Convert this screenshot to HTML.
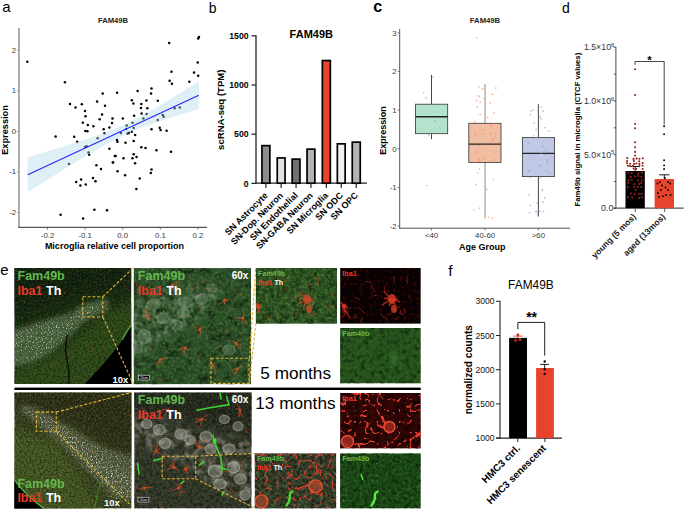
<!DOCTYPE html><html><head><meta charset="utf-8"><title>FAM49B figure</title><style>html,body{margin:0;padding:0;background:#fff;width:685px;height:512px;overflow:hidden;}svg{display:block;font-family:"Liberation Sans",sans-serif;}</style></head><body><svg width="685" height="512" viewBox="0 0 685 512" font-family="&quot;Liberation Sans&quot;, sans-serif"><defs><filter id="bl05" x="-20%" y="-20%" width="140%" height="140%"><feGaussianBlur stdDeviation="0.45"/></filter><filter id="bl1" x="-20%" y="-20%" width="140%" height="140%"><feGaussianBlur stdDeviation="0.8"/></filter><filter id="bl2" x="-30%" y="-30%" width="160%" height="160%"><feGaussianBlur stdDeviation="2.5"/></filter><filter id="bl4" x="-30%" y="-30%" width="160%" height="160%"><feGaussianBlur stdDeviation="5"/></filter><filter id="bl8" x="-30%" y="-30%" width="160%" height="160%"><feGaussianBlur stdDeviation="9"/></filter><clipPath id="cp1"><rect x="14.4" y="268" width="116.9" height="116.1"/></clipPath><filter id="nz1" x="0" y="0" width="1" height="1" color-interpolation-filters="sRGB"><feTurbulence type="fractalNoise" baseFrequency="0.5" numOctaves="2" seed="3"/><feGaussianBlur stdDeviation="0.35"/><feColorMatrix type="matrix" values="0 0 0 0 0.039 0 0 0 0 0.078 0 0 0 0 0.024 1.6 0 0 0 -0.55"/></filter><filter id="nz2" x="0" y="0" width="1" height="1" color-interpolation-filters="sRGB"><feTurbulence type="fractalNoise" baseFrequency="0.5" numOctaves="2" seed="4"/><feGaussianBlur stdDeviation="0.35"/><feColorMatrix type="matrix" values="0 0 0 0 0.235 0 0 0 0 0.353 0 0 0 0 0.157 0 1.4 0 0 -0.6"/></filter><mask id="mk1" maskUnits="userSpaceOnUse" x="0" y="0" width="685" height="512"><polygon points="11.4,331.0 43.0,321.0 72.0,313.0 82.0,305.0 100.0,300.0 108.0,299.0 108.0,311.0 100.0,313.0 82.0,323.0 72.0,334.0 53.0,351.0 33.0,362.0 11.4,366.0" fill="#fff" filter="url(#bl2)"/></mask><filter id="nz3" x="0" y="0" width="1" height="1" color-interpolation-filters="sRGB"><feTurbulence type="fractalNoise" baseFrequency="0.8" numOctaves="1" seed="7"/><feGaussianBlur stdDeviation="0.35"/><feColorMatrix type="matrix" values="0 0 0 0 0.784 0 0 0 0 0.882 0 0 0 0 0.745 4.0 0 0 0 -2.2"/></filter><filter id="nz4" x="0" y="0" width="1" height="1" color-interpolation-filters="sRGB"><feTurbulence type="fractalNoise" baseFrequency="0.7" numOctaves="1" seed="9"/><feGaussianBlur stdDeviation="0.35"/><feColorMatrix type="matrix" values="0 0 0 0 0.667 0 0 0 0 0.235 0 0 0 0 0.118 6 0 0 0 -4.0"/></filter><clipPath id="cp2"><rect x="133.7" y="268.1" width="117.4" height="116.1"/></clipPath><filter id="nz5" x="0" y="0" width="1" height="1" color-interpolation-filters="sRGB"><feTurbulence type="fractalNoise" baseFrequency="0.12" numOctaves="2" seed="11"/><feGaussianBlur stdDeviation="0.5"/><feColorMatrix type="matrix" values="0 0 0 0 0.047 0 0 0 0 0.110 0 0 0 0 0.039 2.0 0 0 0 -0.85"/></filter><filter id="nz6" x="0" y="0" width="1" height="1" color-interpolation-filters="sRGB"><feTurbulence type="fractalNoise" baseFrequency="0.35" numOctaves="2" seed="12"/><feGaussianBlur stdDeviation="0.5"/><feColorMatrix type="matrix" values="0 0 0 0 0.314 0 0 0 0 0.471 0 0 0 0 0.255 0 2.0 0 0 -0.9"/></filter><mask id="mk2" maskUnits="userSpaceOnUse" x="0" y="0" width="685" height="512"><polygon points="128.7,305.0 170.0,288.0 205.0,283.0 222.0,292.0 205.0,315.0 170.0,338.0 128.7,362.0" fill="#fff" filter="url(#bl4)"/></mask><filter id="nz7" x="0" y="0" width="1" height="1" color-interpolation-filters="sRGB"><feTurbulence type="fractalNoise" baseFrequency="0.16" numOctaves="2" seed="13"/><feGaussianBlur stdDeviation="0.35"/><feColorMatrix type="matrix" values="0 0 0 0 0.510 0 0 0 0 0.588 0 0 0 0 0.490 2.0 0 0 0 -0.85"/></filter><clipPath id="cp3"><rect x="255.8" y="267.9" width="81.2" height="55.9"/></clipPath><filter id="nz8" x="0" y="0" width="1" height="1" color-interpolation-filters="sRGB"><feTurbulence type="fractalNoise" baseFrequency="0.15" numOctaves="2" seed="14"/><feGaussianBlur stdDeviation="0.5"/><feColorMatrix type="matrix" values="0 0 0 0 0.047 0 0 0 0 0.110 0 0 0 0 0.031 2.0 0 0 0 -0.8"/></filter><filter id="nz9" x="0" y="0" width="1" height="1" color-interpolation-filters="sRGB"><feTurbulence type="fractalNoise" baseFrequency="0.35" numOctaves="2" seed="15"/><feGaussianBlur stdDeviation="0.5"/><feColorMatrix type="matrix" values="0 0 0 0 0.333 0 0 0 0 0.529 0 0 0 0 0.235 0 2.0 0 0 -0.9"/></filter><clipPath id="cp4"><rect x="340.1" y="267.9" width="80.7" height="55.9"/></clipPath><filter id="nz10" x="0" y="0" width="1" height="1" color-interpolation-filters="sRGB"><feTurbulence type="fractalNoise" baseFrequency="0.3" numOctaves="2" seed="16"/><feGaussianBlur stdDeviation="0.35"/><feColorMatrix type="matrix" values="0 0 0 0 0.353 0 0 0 0 0.047 0 0 0 0 0.031 2.0 0 0 0 -1.05"/></filter><clipPath id="cp5"><rect x="340.1" y="328" width="80.7" height="55.4"/></clipPath><filter id="nz11" x="0" y="0" width="1" height="1" color-interpolation-filters="sRGB"><feTurbulence type="fractalNoise" baseFrequency="0.2" numOctaves="2" seed="17"/><feGaussianBlur stdDeviation="0.35"/><feColorMatrix type="matrix" values="0 0 0 0 0.031 0 0 0 0 0.086 0 0 0 0 0.024 1.8 0 0 0 -0.8"/></filter><filter id="nz12" x="0" y="0" width="1" height="1" color-interpolation-filters="sRGB"><feTurbulence type="fractalNoise" baseFrequency="0.35" numOctaves="2" seed="18"/><feGaussianBlur stdDeviation="0.6"/><feColorMatrix type="matrix" values="0 0 0 0 0.216 0 0 0 0 0.431 0 0 0 0 0.165 0 1.8 0 0 -0.85"/></filter><clipPath id="cp6"><rect x="14.4" y="392.4" width="117.1" height="116.0"/></clipPath><filter id="nz13" x="0" y="0" width="1" height="1" color-interpolation-filters="sRGB"><feTurbulence type="fractalNoise" baseFrequency="0.5" numOctaves="2" seed="19"/><feGaussianBlur stdDeviation="0.35"/><feColorMatrix type="matrix" values="0 0 0 0 0.078 0 0 0 0 0.086 0 0 0 0 0.039 1.6 0 0 0 -0.55"/></filter><filter id="nz14" x="0" y="0" width="1" height="1" color-interpolation-filters="sRGB"><feTurbulence type="fractalNoise" baseFrequency="0.6" numOctaves="2" seed="20"/><feGaussianBlur stdDeviation="0.35"/><feColorMatrix type="matrix" values="0 0 0 0 0.412 0 0 0 0 0.502 0 0 0 0 0.216 0 1.4 0 0 -0.62"/></filter><mask id="mk3" maskUnits="userSpaceOnUse" x="0" y="0" width="685" height="512"><polygon points="22.0,404.0 40.0,410.0 70.0,428.0 100.0,446.0 136.5,458.0 136.5,500.0 115.0,497.0 88.0,470.0 60.0,443.0 30.0,418.0 20.0,410.0" fill="#fff" filter="url(#bl2)"/></mask><filter id="nz15" x="0" y="0" width="1" height="1" color-interpolation-filters="sRGB"><feTurbulence type="fractalNoise" baseFrequency="0.8" numOctaves="1" seed="21"/><feGaussianBlur stdDeviation="0.35"/><feColorMatrix type="matrix" values="0 0 0 0 0.902 0 0 0 0 0.922 0 0 0 0 0.863 4.0 0 0 0 -2.25"/></filter><mask id="mk4" maskUnits="userSpaceOnUse" x="0" y="0" width="685" height="512"><polygon points="25.0,406.0 45.0,414.0 60.0,424.0 85.0,445.0 110.0,465.0 136.5,478.0 136.5,505.0 112.0,500.0 90.0,474.0 62.0,441.0 35.0,418.0" fill="#fff" filter="url(#bl2)"/></mask><filter id="nz16" x="0" y="0" width="1" height="1" color-interpolation-filters="sRGB"><feTurbulence type="fractalNoise" baseFrequency="0.8" numOctaves="1" seed="41"/><feGaussianBlur stdDeviation="0.35"/><feColorMatrix type="matrix" values="0 0 0 0 0.922 0 0 0 0 0.933 0 0 0 0 0.894 4.0 0 0 0 -2.3"/></filter><filter id="nz17" x="0" y="0" width="1" height="1" color-interpolation-filters="sRGB"><feTurbulence type="fractalNoise" baseFrequency="0.7" numOctaves="1" seed="22"/><feGaussianBlur stdDeviation="0.35"/><feColorMatrix type="matrix" values="0 0 0 0 0.667 0 0 0 0 0.235 0 0 0 0 0.118 6 0 0 0 -4.3"/></filter><clipPath id="cp7"><rect x="134.2" y="392.4" width="117.4" height="116.0"/></clipPath><filter id="nz18" x="0" y="0" width="1" height="1" color-interpolation-filters="sRGB"><feTurbulence type="fractalNoise" baseFrequency="0.3" numOctaves="2" seed="23"/><feGaussianBlur stdDeviation="0.5"/><feColorMatrix type="matrix" values="0 0 0 0 0.059 0 0 0 0 0.071 0 0 0 0 0.039 1.8 0 0 0 -0.75"/></filter><filter id="nz19" x="0" y="0" width="1" height="1" color-interpolation-filters="sRGB"><feTurbulence type="fractalNoise" baseFrequency="0.5" numOctaves="2" seed="24"/><feGaussianBlur stdDeviation="0.5"/><feColorMatrix type="matrix" values="0 0 0 0 0.373 0 0 0 0 0.392 0 0 0 0 0.314 0 1.6 0 0 -0.8"/></filter><mask id="mk5" maskUnits="userSpaceOnUse" x="0" y="0" width="685" height="512"><polygon points="129.2,414.0 170.0,422.0 210.0,432.0 256.6,445.0 256.6,498.0 220.0,492.0 190.0,468.0 160.0,452.0 129.2,442.0" fill="#fff" filter="url(#bl4)"/></mask><filter id="nz20" x="0" y="0" width="1" height="1" color-interpolation-filters="sRGB"><feTurbulence type="fractalNoise" baseFrequency="0.13" numOctaves="2" seed="25"/><feGaussianBlur stdDeviation="0.6"/><feColorMatrix type="matrix" values="0 0 0 0 0.667 0 0 0 0 0.675 0 0 0 0 0.627 1.6 0 0 0 -0.65"/></filter><clipPath id="cp8"><rect x="340.1" y="392.9" width="80.7" height="55.7"/></clipPath><filter id="nz21" x="0" y="0" width="1" height="1" color-interpolation-filters="sRGB"><feTurbulence type="fractalNoise" baseFrequency="0.2" numOctaves="2" seed="26"/><feGaussianBlur stdDeviation="0.35"/><feColorMatrix type="matrix" values="0 0 0 0 0.039 0 0 0 0 0.008 0 0 0 0 0.004 2.0 0 0 0 -0.8"/></filter><filter id="nz22" x="0" y="0" width="1" height="1" color-interpolation-filters="sRGB"><feTurbulence type="turbulence" baseFrequency="0.09" numOctaves="2" seed="27"/><feGaussianBlur stdDeviation="0.3"/><feColorMatrix type="matrix" values="0 0 0 0 0.910 0 0 0 0 0.235 0 0 0 0 0.173 -16.0 0 0 0 1.85"/></filter><clipPath id="cp9"><rect x="254.7" y="453.3" width="81.5" height="55.2"/></clipPath><filter id="nz23" x="0" y="0" width="1" height="1" color-interpolation-filters="sRGB"><feTurbulence type="fractalNoise" baseFrequency="0.35" numOctaves="2" seed="28"/><feGaussianBlur stdDeviation="0.35"/><feColorMatrix type="matrix" values="0 0 0 0 0.059 0 0 0 0 0.078 0 0 0 0 0.039 2.0 0 0 0 -0.8"/></filter><filter id="nz24" x="0" y="0" width="1" height="1" color-interpolation-filters="sRGB"><feTurbulence type="fractalNoise" baseFrequency="0.25" numOctaves="2" seed="29"/><feGaussianBlur stdDeviation="0.6"/><feColorMatrix type="matrix" values="0 0 0 0 0.431 0 0 0 0 0.478 0 0 0 0 0.353 0 1.5 0 0 -0.7"/></filter><filter id="nz25" x="0" y="0" width="1" height="1" color-interpolation-filters="sRGB"><feTurbulence type="turbulence" baseFrequency="0.09" numOctaves="2" seed="30"/><feGaussianBlur stdDeviation="0.3"/><feColorMatrix type="matrix" values="0 0 0 0 0.843 0 0 0 0 0.235 0 0 0 0 0.157 -16.0 0 0 0 1.75"/></filter><clipPath id="cp10"><rect x="340.1" y="453.3" width="80.7" height="55.2"/></clipPath><filter id="nz26" x="0" y="0" width="1" height="1" color-interpolation-filters="sRGB"><feTurbulence type="fractalNoise" baseFrequency="0.25" numOctaves="2" seed="31"/><feGaussianBlur stdDeviation="0.35"/><feColorMatrix type="matrix" values="0 0 0 0 0.031 0 0 0 0 0.098 0 0 0 0 0.024 2.0 0 0 0 -0.8"/></filter><filter id="nz27" x="0" y="0" width="1" height="1" color-interpolation-filters="sRGB"><feTurbulence type="fractalNoise" baseFrequency="0.35" numOctaves="2" seed="32"/><feGaussianBlur stdDeviation="0.6"/><feColorMatrix type="matrix" values="0 0 0 0 0.235 0 0 0 0 0.510 0 0 0 0 0.196 0 1.6 0 0 -0.8"/></filter><filter id="nz28" x="0" y="0" width="1" height="1" color-interpolation-filters="sRGB"><feTurbulence type="fractalNoise" baseFrequency="0.6" numOctaves="1" seed="33"/><feGaussianBlur stdDeviation="0.3"/><feColorMatrix type="matrix" values="0 0 0 0 0.353 0 0 0 0 0.784 0 0 0 0 0.275 6 0 0 0 -4.2"/></filter></defs><text x="2.2" y="12.1" font-size="15" text-anchor="start" font-weight="normal" fill="#000">a</text>
<text x="208.8" y="13.3" font-size="14" text-anchor="start" font-weight="normal" fill="#000">b</text>
<text x="373.3" y="12.4" font-size="16.2" text-anchor="start" font-weight="bold" fill="#000">c</text>
<text x="562" y="13.2" font-size="14" text-anchor="start" font-weight="normal" fill="#000">d</text>
<text x="0.3" y="274.8" font-size="15" text-anchor="start" font-weight="normal" fill="#000">e</text>
<text x="448.3" y="275.8" font-size="15.5" text-anchor="start" font-weight="normal" fill="#000">f</text>
<text x="113" y="22.8" font-size="7.6" text-anchor="middle" font-weight="bold" fill="#222">FAM49B</text>
<circle cx="27.3" cy="61.8" r="1.25" fill="#000"/>
<circle cx="64.9" cy="82.2" r="1.25" fill="#000"/>
<circle cx="70" cy="104" r="1.25" fill="#000"/>
<circle cx="75.5" cy="107.4" r="1.25" fill="#000"/>
<circle cx="81.8" cy="104.2" r="1.25" fill="#000"/>
<circle cx="97.1" cy="101.6" r="1.25" fill="#000"/>
<circle cx="102.7" cy="93.5" r="1.25" fill="#000"/>
<circle cx="105" cy="105.8" r="1.25" fill="#000"/>
<circle cx="117.1" cy="92.8" r="1.25" fill="#000"/>
<circle cx="137.6" cy="91" r="1.25" fill="#000"/>
<circle cx="131.8" cy="100.3" r="1.25" fill="#000"/>
<circle cx="133.4" cy="103.4" r="1.25" fill="#000"/>
<circle cx="141.3" cy="104" r="1.25" fill="#000"/>
<circle cx="141" cy="108" r="1.25" fill="#000"/>
<circle cx="146.4" cy="100.5" r="1.25" fill="#000"/>
<circle cx="147.3" cy="108.2" r="1.25" fill="#000"/>
<circle cx="151.5" cy="88.5" r="1.25" fill="#000"/>
<circle cx="151" cy="93.5" r="1.25" fill="#000"/>
<circle cx="157.8" cy="100.7" r="1.25" fill="#000"/>
<circle cx="169.2" cy="43" r="1.25" fill="#000"/>
<circle cx="171.5" cy="71.7" r="1.25" fill="#000"/>
<circle cx="169.6" cy="80.8" r="1.25" fill="#000"/>
<circle cx="171.9" cy="83.8" r="1.25" fill="#000"/>
<circle cx="189.4" cy="81.7" r="1.25" fill="#000"/>
<circle cx="194" cy="72.4" r="1.25" fill="#000"/>
<circle cx="198.2" cy="75.7" r="1.25" fill="#000"/>
<circle cx="197.7" cy="62.5" r="1.25" fill="#000"/>
<circle cx="198.2" cy="38.5" r="1.25" fill="#000"/>
<circle cx="199" cy="37" r="1.25" fill="#000"/>
<circle cx="85" cy="111" r="1.25" fill="#000"/>
<circle cx="85.5" cy="116.2" r="1.25" fill="#000"/>
<circle cx="102" cy="114.6" r="1.25" fill="#000"/>
<circle cx="99.7" cy="119.3" r="1.25" fill="#000"/>
<circle cx="112.5" cy="118.5" r="1.25" fill="#000"/>
<circle cx="112" cy="123" r="1.25" fill="#000"/>
<circle cx="82.8" cy="122.8" r="1.25" fill="#000"/>
<circle cx="87.8" cy="125.1" r="1.25" fill="#000"/>
<circle cx="93.4" cy="126.2" r="1.25" fill="#000"/>
<circle cx="103.6" cy="129.2" r="1.25" fill="#000"/>
<circle cx="109.4" cy="127.4" r="1.25" fill="#000"/>
<circle cx="85.3" cy="130.9" r="1.25" fill="#000"/>
<circle cx="87.4" cy="131.3" r="1.25" fill="#000"/>
<circle cx="55.6" cy="136.4" r="1.25" fill="#000"/>
<circle cx="74.2" cy="136.7" r="1.25" fill="#000"/>
<circle cx="77.2" cy="141.7" r="1.25" fill="#000"/>
<circle cx="97.6" cy="138.3" r="1.25" fill="#000"/>
<circle cx="104.5" cy="133.2" r="1.25" fill="#000"/>
<circle cx="85" cy="147.1" r="1.25" fill="#000"/>
<circle cx="86.7" cy="146.2" r="1.25" fill="#000"/>
<circle cx="88.5" cy="152.4" r="1.25" fill="#000"/>
<circle cx="89.2" cy="154.7" r="1.25" fill="#000"/>
<circle cx="69" cy="164.1" r="1.25" fill="#000"/>
<circle cx="109.4" cy="148.7" r="1.25" fill="#000"/>
<circle cx="114.8" cy="155.9" r="1.25" fill="#000"/>
<circle cx="112.9" cy="162.2" r="1.25" fill="#000"/>
<circle cx="96.4" cy="165.2" r="1.25" fill="#000"/>
<circle cx="101" cy="168.9" r="1.25" fill="#000"/>
<circle cx="93" cy="178" r="1.25" fill="#000"/>
<circle cx="95.5" cy="181.2" r="1.25" fill="#000"/>
<circle cx="76.2" cy="182.1" r="1.25" fill="#000"/>
<circle cx="81.1" cy="179.6" r="1.25" fill="#000"/>
<circle cx="80.4" cy="185.6" r="1.25" fill="#000"/>
<circle cx="85.8" cy="184.5" r="1.25" fill="#000"/>
<circle cx="141.6" cy="113.4" r="1.25" fill="#000"/>
<circle cx="146.6" cy="114.1" r="1.25" fill="#000"/>
<circle cx="134.1" cy="115.8" r="1.25" fill="#000"/>
<circle cx="122.8" cy="118.6" r="1.25" fill="#000"/>
<circle cx="143.4" cy="118.5" r="1.25" fill="#000"/>
<circle cx="132.5" cy="122.8" r="1.25" fill="#000"/>
<circle cx="126.7" cy="125.5" r="1.25" fill="#000"/>
<circle cx="162.7" cy="114.9" r="1.25" fill="#000"/>
<circle cx="163.6" cy="116.7" r="1.25" fill="#000"/>
<circle cx="157.8" cy="120" r="1.25" fill="#000"/>
<circle cx="174.7" cy="108.3" r="1.25" fill="#000"/>
<circle cx="179.8" cy="107.6" r="1.25" fill="#000"/>
<circle cx="126.2" cy="129" r="1.25" fill="#000"/>
<circle cx="133.7" cy="128.1" r="1.25" fill="#000"/>
<circle cx="120.9" cy="132.9" r="1.25" fill="#000"/>
<circle cx="127.6" cy="133.4" r="1.25" fill="#000"/>
<circle cx="129" cy="132.7" r="1.25" fill="#000"/>
<circle cx="131.8" cy="131.8" r="1.25" fill="#000"/>
<circle cx="135.1" cy="135.1" r="1.25" fill="#000"/>
<circle cx="151.5" cy="129.3" r="1.25" fill="#000"/>
<circle cx="159.7" cy="127.8" r="1.25" fill="#000"/>
<circle cx="160.6" cy="129.9" r="1.25" fill="#000"/>
<circle cx="166.6" cy="130.8" r="1.25" fill="#000"/>
<circle cx="117" cy="139.9" r="1.25" fill="#000"/>
<circle cx="117.4" cy="141.7" r="1.25" fill="#000"/>
<circle cx="125.5" cy="142.7" r="1.25" fill="#000"/>
<circle cx="133.7" cy="141.1" r="1.25" fill="#000"/>
<circle cx="141.3" cy="147.3" r="1.25" fill="#000"/>
<circle cx="145.5" cy="148" r="1.25" fill="#000"/>
<circle cx="156.4" cy="150.3" r="1.25" fill="#000"/>
<circle cx="171" cy="151.7" r="1.25" fill="#000"/>
<circle cx="115.6" cy="155.9" r="1.25" fill="#000"/>
<circle cx="123.5" cy="158.3" r="1.25" fill="#000"/>
<circle cx="133.7" cy="154.3" r="1.25" fill="#000"/>
<circle cx="132.5" cy="158.2" r="1.25" fill="#000"/>
<circle cx="136.5" cy="157.1" r="1.25" fill="#000"/>
<circle cx="135.1" cy="163.3" r="1.25" fill="#000"/>
<circle cx="113" cy="162.4" r="1.25" fill="#000"/>
<circle cx="117.6" cy="171.2" r="1.25" fill="#000"/>
<circle cx="125.1" cy="175.2" r="1.25" fill="#000"/>
<circle cx="151.5" cy="169.6" r="1.25" fill="#000"/>
<circle cx="150.8" cy="173.1" r="1.25" fill="#000"/>
<circle cx="139.7" cy="178.6" r="1.25" fill="#000"/>
<circle cx="136.4" cy="189.1" r="1.25" fill="#000"/>
<circle cx="60.6" cy="214.8" r="1.25" fill="#000"/>
<circle cx="83.1" cy="218.4" r="1.25" fill="#000"/>
<circle cx="94.4" cy="209.8" r="1.25" fill="#000"/>
<circle cx="107" cy="210.2" r="1.25" fill="#000"/>
<polygon points="27.7,157.3 32.0,156.0 36.3,154.7 40.5,153.4 44.8,152.1 49.1,150.8 53.4,149.5 57.6,148.2 61.9,146.9 66.2,145.5 70.5,144.2 74.8,142.8 79.0,141.5 83.3,140.1 87.6,138.7 91.9,137.3 96.1,135.8 100.4,134.3 104.7,132.7 109.0,131.1 113.3,129.4 117.5,127.6 121.8,125.8 126.1,123.8 130.4,121.7 134.6,119.5 138.9,117.3 143.2,114.9 147.5,112.5 151.7,110.1 156.0,107.6 160.3,105.0 164.6,102.5 168.9,99.9 173.1,97.3 177.4,94.6 181.7,92.0 186.0,89.4 190.2,86.7 194.5,84.1 198.8,81.4 198.8,109.0 194.5,110.3 190.2,111.6 186.0,112.9 181.7,114.3 177.4,115.6 173.1,117.0 168.9,118.3 164.6,119.7 160.3,121.1 156.0,122.6 151.7,124.1 147.5,125.6 143.2,127.1 138.9,128.8 134.6,130.5 130.4,132.3 126.1,134.2 121.8,136.2 117.5,138.3 113.3,140.5 109.0,142.8 104.7,145.1 100.4,147.5 96.1,150.0 91.9,152.5 87.6,155.1 83.3,157.6 79.0,160.2 74.8,162.8 70.5,165.4 66.2,168.1 61.9,170.7 57.6,173.4 53.4,176.0 49.1,178.7 44.8,181.4 40.5,184.0 36.3,186.7 32.0,189.4 27.7,192.1" fill="rgb(173,216,230)" fill-opacity="0.4"/>
<line x1="27.7" y1="174.7" x2="198.8" y2="95.2" stroke="#2b2bff" stroke-width="1.2"/>
<line x1="19" y1="28" x2="19" y2="227.9" stroke="#8a8a8a" stroke-width="1.4"/>
<line x1="18.3" y1="227.4" x2="207" y2="227.4" stroke="#555" stroke-width="1.1"/>
<line x1="17" y1="50.2" x2="19" y2="50.2" stroke="#8a8a8a" stroke-width="0.8"/>
<text x="16.2" y="52.5" font-size="7.8" text-anchor="end" font-weight="normal" fill="#3a3a3a">2</text>
<line x1="17" y1="90.8" x2="19" y2="90.8" stroke="#8a8a8a" stroke-width="0.8"/>
<text x="16.2" y="93.1" font-size="7.8" text-anchor="end" font-weight="normal" fill="#3a3a3a">1</text>
<line x1="17" y1="131.4" x2="19" y2="131.4" stroke="#8a8a8a" stroke-width="0.8"/>
<text x="16.2" y="133.70000000000002" font-size="7.8" text-anchor="end" font-weight="normal" fill="#3a3a3a">0</text>
<line x1="17" y1="172" x2="19" y2="172" stroke="#8a8a8a" stroke-width="0.8"/>
<text x="16.2" y="174.3" font-size="7.8" text-anchor="end" font-weight="normal" fill="#3a3a3a">-1</text>
<line x1="17" y1="212.6" x2="19" y2="212.6" stroke="#8a8a8a" stroke-width="0.8"/>
<text x="16.2" y="214.9" font-size="7.8" text-anchor="end" font-weight="normal" fill="#3a3a3a">-2</text>
<line x1="47.5" y1="227.4" x2="47.5" y2="229.6" stroke="#555" stroke-width="0.8"/>
<text x="47.5" y="238.3" font-size="7.8" text-anchor="middle" font-weight="normal" fill="#3a3a3a">-0.2</text>
<line x1="85.1" y1="227.4" x2="85.1" y2="229.6" stroke="#555" stroke-width="0.8"/>
<text x="85.1" y="238.3" font-size="7.8" text-anchor="middle" font-weight="normal" fill="#3a3a3a">-0.1</text>
<line x1="122.7" y1="227.4" x2="122.7" y2="229.6" stroke="#555" stroke-width="0.8"/>
<text x="122.7" y="238.3" font-size="7.8" text-anchor="middle" font-weight="normal" fill="#3a3a3a">0.0</text>
<line x1="160.3" y1="227.4" x2="160.3" y2="229.6" stroke="#555" stroke-width="0.8"/>
<text x="160.3" y="238.3" font-size="7.8" text-anchor="middle" font-weight="normal" fill="#3a3a3a">0.1</text>
<line x1="197.9" y1="227.4" x2="197.9" y2="229.6" stroke="#555" stroke-width="0.8"/>
<text x="197.9" y="238.3" font-size="7.8" text-anchor="middle" font-weight="normal" fill="#3a3a3a">0.2</text>
<text x="114.4" y="248.6" font-size="9" text-anchor="middle" font-weight="bold" fill="#000">Microglia relative cell proportion</text>
<text x="8.3" y="130" font-size="9.2" text-anchor="middle" font-weight="bold" fill="#000" transform="rotate(-90 8.3 130)">Expression</text>
<text x="311.3" y="37.6" font-size="11" text-anchor="middle" font-weight="bold" fill="#000">FAM49B</text>
<line x1="256" y1="35.3" x2="256" y2="183.9" stroke="#222" stroke-width="1.3"/>
<line x1="255.4" y1="183.2" x2="367" y2="183.2" stroke="#222" stroke-width="1.3"/>
<line x1="251.4" y1="35.8" x2="256" y2="35.8" stroke="#222" stroke-width="1.2"/>
<text x="248.6" y="38.9" font-size="8.7" text-anchor="end" font-weight="bold" fill="#000">1500</text>
<line x1="251.4" y1="85" x2="256" y2="85" stroke="#222" stroke-width="1.2"/>
<text x="248.6" y="88.1" font-size="8.7" text-anchor="end" font-weight="bold" fill="#000">1000</text>
<line x1="251.4" y1="134.2" x2="256" y2="134.2" stroke="#222" stroke-width="1.2"/>
<text x="248.6" y="137.29999999999998" font-size="8.7" text-anchor="end" font-weight="bold" fill="#000">500</text>
<line x1="251.4" y1="183.4" x2="256" y2="183.4" stroke="#222" stroke-width="1.2"/>
<text x="248.6" y="186.5" font-size="8.7" text-anchor="end" font-weight="bold" fill="#000">0</text>
<rect x="261.95" y="145.65" width="7.90" height="37.55" fill="#8d8d8d" stroke="#000" stroke-width="1.7"/>
<line x1="265.9" y1="183.2" x2="265.9" y2="188" stroke="#222" stroke-width="1.2"/>
<text x="268.29999999999995" y="196.0" font-size="9.0" text-anchor="end" font-weight="bold" fill="#000" transform="rotate(-45 268.29999999999995 196.0)">SN Astrocyte</text>
<rect x="277.25" y="157.95" width="7.80" height="25.25" fill="#e3e3e3" stroke="#000" stroke-width="1.7"/>
<line x1="281.15" y1="183.2" x2="281.15" y2="188" stroke="#222" stroke-width="1.2"/>
<text x="283.54999999999995" y="196.0" font-size="9.0" text-anchor="end" font-weight="bold" fill="#000" transform="rotate(-45 283.54999999999995 196.0)">SN-Dop. Neuron</text>
<rect x="292.15" y="159.15" width="7.80" height="24.05" fill="#6f6f6f" stroke="#000" stroke-width="1.7"/>
<line x1="296.05" y1="183.2" x2="296.05" y2="188" stroke="#222" stroke-width="1.2"/>
<text x="298.45" y="196.0" font-size="9.0" text-anchor="end" font-weight="bold" fill="#000" transform="rotate(-45 298.45 196.0)">SN Endothelial</text>
<rect x="307.05" y="149.15" width="7.80" height="34.05" fill="#b3b3b3" stroke="#000" stroke-width="1.7"/>
<line x1="310.95" y1="183.2" x2="310.95" y2="188" stroke="#222" stroke-width="1.2"/>
<text x="313.34999999999997" y="196.0" font-size="9.0" text-anchor="end" font-weight="bold" fill="#000" transform="rotate(-45 313.34999999999997 196.0)">SN-GABA Neuron</text>
<rect x="322.35" y="60.55" width="8.00" height="122.65" fill="#e8432c" stroke="#000" stroke-width="1.7"/>
<line x1="326.35" y1="183.2" x2="326.35" y2="188" stroke="#222" stroke-width="1.2"/>
<text x="328.75" y="196.0" font-size="9.0" text-anchor="end" font-weight="bold" fill="#000" transform="rotate(-45 328.75 196.0)">SN Microglia</text>
<rect x="337.35" y="143.85" width="7.80" height="39.35" fill="#f0f0f0" stroke="#000" stroke-width="1.7"/>
<line x1="341.25" y1="183.2" x2="341.25" y2="188" stroke="#222" stroke-width="1.2"/>
<text x="343.65" y="196.0" font-size="9.0" text-anchor="end" font-weight="bold" fill="#000" transform="rotate(-45 343.65 196.0)">SN ODC</text>
<rect x="352.25" y="142.15" width="8.00" height="41.05" fill="#b3b3b3" stroke="#000" stroke-width="1.7"/>
<line x1="356.25" y1="183.2" x2="356.25" y2="188" stroke="#222" stroke-width="1.2"/>
<text x="358.65" y="196.0" font-size="9.0" text-anchor="end" font-weight="bold" fill="#000" transform="rotate(-45 358.65 196.0)">SN OPC</text>
<text x="224.4" y="109.7" font-size="9.6" text-anchor="middle" font-weight="bold" fill="#000" transform="rotate(-90 224.4 109.7)">scRNA-seq (TPM)</text>
<text x="485" y="23.2" font-size="7.7" text-anchor="middle" font-weight="bold" fill="#222">FAM49B</text>
<line x1="399.7" y1="28.9" x2="399.7" y2="228.6" stroke="#555" stroke-width="1.0"/>
<line x1="399.2" y1="228.2" x2="570.3" y2="228.2" stroke="#555" stroke-width="1.0"/>
<line x1="397.6" y1="32.8" x2="399.7" y2="32.8" stroke="#555" stroke-width="0.8"/>
<text x="396.6" y="35.599999999999994" font-size="7.8" text-anchor="end" font-weight="normal" fill="#3a3a3a">3</text>
<line x1="397.6" y1="71.4" x2="399.7" y2="71.4" stroke="#555" stroke-width="0.8"/>
<text x="396.6" y="74.2" font-size="7.8" text-anchor="end" font-weight="normal" fill="#3a3a3a">2</text>
<line x1="397.6" y1="110.1" x2="399.7" y2="110.1" stroke="#555" stroke-width="0.8"/>
<text x="396.6" y="112.89999999999999" font-size="7.8" text-anchor="end" font-weight="normal" fill="#3a3a3a">1</text>
<line x1="397.6" y1="148.7" x2="399.7" y2="148.7" stroke="#555" stroke-width="0.8"/>
<text x="396.6" y="151.5" font-size="7.8" text-anchor="end" font-weight="normal" fill="#3a3a3a">0</text>
<line x1="397.6" y1="187.4" x2="399.7" y2="187.4" stroke="#555" stroke-width="0.8"/>
<text x="396.6" y="190.20000000000002" font-size="7.8" text-anchor="end" font-weight="normal" fill="#3a3a3a">-1</text>
<line x1="397.6" y1="226" x2="399.7" y2="226" stroke="#555" stroke-width="0.8"/>
<text x="396.6" y="228.8" font-size="7.8" text-anchor="end" font-weight="normal" fill="#3a3a3a">-2</text>
<line x1="431.5" y1="74.9" x2="431.5" y2="104.2" stroke="#333" stroke-width="0.9"/>
<line x1="431.5" y1="133.7" x2="431.5" y2="139.2" stroke="#333" stroke-width="0.9"/>
<rect x="415.50" y="104.20" width="32.20" height="29.50" fill="#b3e2cd" stroke="#333" stroke-width="0.8"/>
<line x1="415.5" y1="116.8" x2="447.7" y2="116.8" stroke="#222" stroke-width="1.4"/>
<circle cx="423.7" cy="92.7" r="0.9" fill="rgb(102, 194, 165)" fill-opacity="0.6"/>
<circle cx="427.0" cy="185.6" r="0.9" fill="rgb(102, 194, 165)" fill-opacity="0.6"/>
<circle cx="433.0" cy="77.0" r="0.9" fill="rgb(102, 194, 165)" fill-opacity="0.6"/>
<circle cx="426.0" cy="98.0" r="0.9" fill="rgb(102, 194, 165)" fill-opacity="0.6"/>
<circle cx="435.0" cy="121.0" r="0.9" fill="rgb(102, 194, 165)" fill-opacity="0.6"/>
<circle cx="440.0" cy="128.0" r="0.9" fill="rgb(102, 194, 165)" fill-opacity="0.6"/>
<circle cx="429.0" cy="135.0" r="0.9" fill="rgb(102, 194, 165)" fill-opacity="0.6"/>
<circle cx="438.0" cy="112.0" r="0.9" fill="rgb(102, 194, 165)" fill-opacity="0.6"/>
<line x1="431.5" y1="228.2" x2="431.5" y2="230.4" stroke="#555" stroke-width="0.8"/>
<text x="431.5" y="238.4" font-size="7.8" text-anchor="middle" font-weight="normal" fill="#3a3a3a">&lt;40</text>
<line x1="485.1" y1="84.1" x2="485.1" y2="123.3" stroke="#b4b4b4" stroke-width="1.5"/>
<line x1="485.1" y1="162.4" x2="485.1" y2="218.4" stroke="#b4b4b4" stroke-width="1.5"/>
<rect x="468.80" y="123.30" width="32.20" height="39.10" fill="#f0bea2" stroke="#333" stroke-width="0.8"/>
<line x1="468.8" y1="144.1" x2="501" y2="144.1" stroke="#222" stroke-width="1.4"/>
<circle cx="474.8" cy="132.8" r="0.9" fill="rgb(252, 141, 98)" fill-opacity="0.6"/>
<circle cx="492.6" cy="140.5" r="0.9" fill="rgb(252, 141, 98)" fill-opacity="0.6"/>
<circle cx="485.1" cy="109.2" r="0.9" fill="rgb(252, 141, 98)" fill-opacity="0.6"/>
<circle cx="480.2" cy="102.0" r="0.9" fill="rgb(252, 141, 98)" fill-opacity="0.6"/>
<circle cx="492.6" cy="218.2" r="0.9" fill="rgb(252, 141, 98)" fill-opacity="0.6"/>
<circle cx="479.2" cy="96.5" r="0.9" fill="rgb(252, 141, 98)" fill-opacity="0.6"/>
<circle cx="491.0" cy="126.0" r="0.9" fill="rgb(252, 141, 98)" fill-opacity="0.6"/>
<circle cx="482.6" cy="156.4" r="0.9" fill="rgb(252, 141, 98)" fill-opacity="0.6"/>
<circle cx="474.1" cy="209.8" r="0.9" fill="rgb(252, 141, 98)" fill-opacity="0.6"/>
<circle cx="484.4" cy="158.9" r="0.9" fill="rgb(252, 141, 98)" fill-opacity="0.6"/>
<circle cx="475.7" cy="184.7" r="0.9" fill="rgb(252, 141, 98)" fill-opacity="0.6"/>
<circle cx="480.0" cy="114.6" r="0.9" fill="rgb(252, 141, 98)" fill-opacity="0.6"/>
<circle cx="495.3" cy="136.3" r="0.9" fill="rgb(252, 141, 98)" fill-opacity="0.6"/>
<circle cx="479.5" cy="169.0" r="0.9" fill="rgb(252, 141, 98)" fill-opacity="0.6"/>
<circle cx="491.6" cy="125.6" r="0.9" fill="rgb(252, 141, 98)" fill-opacity="0.6"/>
<circle cx="483.9" cy="145.2" r="0.9" fill="rgb(252, 141, 98)" fill-opacity="0.6"/>
<circle cx="477.0" cy="151.9" r="0.9" fill="rgb(252, 141, 98)" fill-opacity="0.6"/>
<circle cx="483.4" cy="88.7" r="0.9" fill="rgb(252, 141, 98)" fill-opacity="0.6"/>
<circle cx="495.5" cy="133.8" r="0.9" fill="rgb(252, 141, 98)" fill-opacity="0.6"/>
<circle cx="493.6" cy="179.4" r="0.9" fill="rgb(252, 141, 98)" fill-opacity="0.6"/>
<circle cx="492.9" cy="138.7" r="0.9" fill="rgb(252, 141, 98)" fill-opacity="0.6"/>
<circle cx="495.9" cy="88.0" r="0.9" fill="rgb(252, 141, 98)" fill-opacity="0.6"/>
<circle cx="491.1" cy="133.4" r="0.9" fill="rgb(252, 141, 98)" fill-opacity="0.6"/>
<circle cx="475.7" cy="134.9" r="0.9" fill="rgb(252, 141, 98)" fill-opacity="0.6"/>
<circle cx="479.4" cy="146.1" r="0.9" fill="rgb(252, 141, 98)" fill-opacity="0.6"/>
<circle cx="484.1" cy="98.7" r="0.9" fill="rgb(252, 141, 98)" fill-opacity="0.6"/>
<circle cx="486.7" cy="189.5" r="0.9" fill="rgb(252, 141, 98)" fill-opacity="0.6"/>
<circle cx="477.5" cy="172.6" r="0.9" fill="rgb(252, 141, 98)" fill-opacity="0.6"/>
<circle cx="479.6" cy="208.2" r="0.9" fill="rgb(252, 141, 98)" fill-opacity="0.6"/>
<circle cx="494.8" cy="152.2" r="0.9" fill="rgb(252, 141, 98)" fill-opacity="0.6"/>
<circle cx="493.5" cy="160.5" r="0.9" fill="rgb(252, 141, 98)" fill-opacity="0.6"/>
<circle cx="476.4" cy="100.6" r="0.9" fill="rgb(252, 141, 98)" fill-opacity="0.6"/>
<circle cx="479.3" cy="160.9" r="0.9" fill="rgb(252, 141, 98)" fill-opacity="0.6"/>
<circle cx="492.2" cy="94.2" r="0.9" fill="rgb(252, 141, 98)" fill-opacity="0.6"/>
<circle cx="478.0" cy="95.6" r="0.9" fill="rgb(252, 141, 98)" fill-opacity="0.6"/>
<circle cx="479.1" cy="86.8" r="0.9" fill="rgb(252, 141, 98)" fill-opacity="0.6"/>
<circle cx="487.6" cy="117.5" r="0.9" fill="rgb(252, 141, 98)" fill-opacity="0.6"/>
<circle cx="478.6" cy="159.2" r="0.9" fill="rgb(252, 141, 98)" fill-opacity="0.6"/>
<circle cx="483.9" cy="133.8" r="0.9" fill="rgb(252, 141, 98)" fill-opacity="0.6"/>
<circle cx="482.2" cy="130.2" r="0.9" fill="rgb(252, 141, 98)" fill-opacity="0.6"/>
<circle cx="482.1" cy="89.3" r="0.9" fill="rgb(252, 141, 98)" fill-opacity="0.6"/>
<circle cx="488.6" cy="217.3" r="0.9" fill="rgb(252, 141, 98)" fill-opacity="0.6"/>
<circle cx="477.2" cy="107.0" r="0.9" fill="rgb(252, 141, 98)" fill-opacity="0.6"/>
<circle cx="494.1" cy="124.0" r="0.9" fill="rgb(252, 141, 98)" fill-opacity="0.6"/>
<circle cx="474.6" cy="121.8" r="0.9" fill="rgb(252, 141, 98)" fill-opacity="0.6"/>
<circle cx="490.2" cy="103.0" r="0.9" fill="rgb(252, 141, 98)" fill-opacity="0.6"/>
<circle cx="475.8" cy="162.4" r="0.9" fill="rgb(252, 141, 98)" fill-opacity="0.6"/>
<circle cx="493.9" cy="113.0" r="0.9" fill="rgb(252, 141, 98)" fill-opacity="0.6"/>
<circle cx="476.7" cy="37.6" r="0.9" fill="rgb(252, 141, 98)" fill-opacity="0.6"/>
<line x1="485.1" y1="228.2" x2="485.1" y2="230.4" stroke="#555" stroke-width="0.8"/>
<text x="485.1" y="238.4" font-size="7.8" text-anchor="middle" font-weight="normal" fill="#3a3a3a">40-60</text>
<line x1="538.4" y1="104.2" x2="538.4" y2="137.5" stroke="#333" stroke-width="0.9"/>
<line x1="538.4" y1="176.6" x2="538.4" y2="216.5" stroke="#333" stroke-width="0.9"/>
<rect x="522.60" y="137.50" width="32.00" height="39.10" fill="#c0c8e6" stroke="#333" stroke-width="0.8"/>
<line x1="522.6" y1="153.4" x2="554.6" y2="153.4" stroke="#222" stroke-width="1.4"/>
<circle cx="544.9" cy="127.6" r="0.9" fill="rgb(141, 160, 203)" fill-opacity="0.6"/>
<circle cx="542.5" cy="190.6" r="0.9" fill="rgb(141, 160, 203)" fill-opacity="0.6"/>
<circle cx="536.6" cy="211.4" r="0.9" fill="rgb(141, 160, 203)" fill-opacity="0.6"/>
<circle cx="540.0" cy="211.1" r="0.9" fill="rgb(141, 160, 203)" fill-opacity="0.6"/>
<circle cx="540.2" cy="116.9" r="0.9" fill="rgb(141, 160, 203)" fill-opacity="0.6"/>
<circle cx="541.5" cy="106.9" r="0.9" fill="rgb(141, 160, 203)" fill-opacity="0.6"/>
<circle cx="543.4" cy="211.7" r="0.9" fill="rgb(141, 160, 203)" fill-opacity="0.6"/>
<circle cx="540.2" cy="166.2" r="0.9" fill="rgb(141, 160, 203)" fill-opacity="0.6"/>
<circle cx="529.2" cy="170.3" r="0.9" fill="rgb(141, 160, 203)" fill-opacity="0.6"/>
<circle cx="540.6" cy="177.8" r="0.9" fill="rgb(141, 160, 203)" fill-opacity="0.6"/>
<circle cx="542.8" cy="146.5" r="0.9" fill="rgb(141, 160, 203)" fill-opacity="0.6"/>
<circle cx="547.7" cy="161.5" r="0.9" fill="rgb(141, 160, 203)" fill-opacity="0.6"/>
<circle cx="534.0" cy="137.9" r="0.9" fill="rgb(141, 160, 203)" fill-opacity="0.6"/>
<circle cx="531.1" cy="110.9" r="0.9" fill="rgb(141, 160, 203)" fill-opacity="0.6"/>
<circle cx="537.1" cy="202.9" r="0.9" fill="rgb(141, 160, 203)" fill-opacity="0.6"/>
<circle cx="542.0" cy="189.6" r="0.9" fill="rgb(141, 160, 203)" fill-opacity="0.6"/>
<circle cx="545.1" cy="154.3" r="0.9" fill="rgb(141, 160, 203)" fill-opacity="0.6"/>
<circle cx="535.9" cy="211.7" r="0.9" fill="rgb(141, 160, 203)" fill-opacity="0.6"/>
<circle cx="530.4" cy="114.7" r="0.9" fill="rgb(141, 160, 203)" fill-opacity="0.6"/>
<circle cx="546.1" cy="170.2" r="0.9" fill="rgb(141, 160, 203)" fill-opacity="0.6"/>
<circle cx="533.5" cy="135.8" r="0.9" fill="rgb(141, 160, 203)" fill-opacity="0.6"/>
<circle cx="533.5" cy="155.1" r="0.9" fill="rgb(141, 160, 203)" fill-opacity="0.6"/>
<circle cx="541.2" cy="153.7" r="0.9" fill="rgb(141, 160, 203)" fill-opacity="0.6"/>
<circle cx="545.9" cy="149.8" r="0.9" fill="rgb(141, 160, 203)" fill-opacity="0.6"/>
<circle cx="529.0" cy="194.7" r="0.9" fill="rgb(141, 160, 203)" fill-opacity="0.6"/>
<circle cx="528.3" cy="171.6" r="0.9" fill="rgb(141, 160, 203)" fill-opacity="0.6"/>
<circle cx="534.2" cy="123.2" r="0.9" fill="rgb(141, 160, 203)" fill-opacity="0.6"/>
<circle cx="530.4" cy="177.4" r="0.9" fill="rgb(141, 160, 203)" fill-opacity="0.6"/>
<circle cx="545.7" cy="138.5" r="0.9" fill="rgb(141, 160, 203)" fill-opacity="0.6"/>
<circle cx="528.4" cy="143.0" r="0.9" fill="rgb(141, 160, 203)" fill-opacity="0.6"/>
<circle cx="541.3" cy="119.1" r="0.9" fill="rgb(141, 160, 203)" fill-opacity="0.6"/>
<circle cx="548.5" cy="131.1" r="0.9" fill="rgb(141, 160, 203)" fill-opacity="0.6"/>
<circle cx="537.9" cy="110.8" r="0.9" fill="rgb(141, 160, 203)" fill-opacity="0.6"/>
<circle cx="537.8" cy="137.9" r="0.9" fill="rgb(141, 160, 203)" fill-opacity="0.6"/>
<circle cx="533.4" cy="110.2" r="0.9" fill="rgb(141, 160, 203)" fill-opacity="0.6"/>
<circle cx="538.8" cy="164.8" r="0.9" fill="rgb(141, 160, 203)" fill-opacity="0.6"/>
<circle cx="536.1" cy="129.4" r="0.9" fill="rgb(141, 160, 203)" fill-opacity="0.6"/>
<circle cx="529.3" cy="212.8" r="0.9" fill="rgb(141, 160, 203)" fill-opacity="0.6"/>
<circle cx="530.3" cy="205.4" r="0.9" fill="rgb(141, 160, 203)" fill-opacity="0.6"/>
<circle cx="547.4" cy="162.0" r="0.9" fill="rgb(141, 160, 203)" fill-opacity="0.6"/>
<circle cx="546.7" cy="159.7" r="0.9" fill="rgb(141, 160, 203)" fill-opacity="0.6"/>
<circle cx="537.6" cy="214.3" r="0.9" fill="rgb(141, 160, 203)" fill-opacity="0.6"/>
<circle cx="543.3" cy="111.0" r="0.9" fill="rgb(141, 160, 203)" fill-opacity="0.6"/>
<circle cx="543.2" cy="202.2" r="0.9" fill="rgb(141, 160, 203)" fill-opacity="0.6"/>
<circle cx="549.0" cy="172.7" r="0.9" fill="rgb(141, 160, 203)" fill-opacity="0.6"/>
<circle cx="544.8" cy="198.0" r="0.9" fill="rgb(141, 160, 203)" fill-opacity="0.6"/>
<line x1="538.4" y1="228.2" x2="538.4" y2="230.4" stroke="#555" stroke-width="0.8"/>
<text x="538.4" y="238.4" font-size="7.8" text-anchor="middle" font-weight="normal" fill="#3a3a3a">&gt;60</text>
<text x="482.3" y="249.6" font-size="9" text-anchor="middle" font-weight="bold" fill="#000">Age Group</text>
<text x="386.3" y="130.5" font-size="9" text-anchor="middle" font-weight="bold" fill="#000" transform="rotate(-90 386.3 130.5)">Expression</text>
<line x1="615.9" y1="46.8" x2="615.9" y2="208.4" stroke="#333" stroke-width="0.9"/>
<line x1="613.4" y1="208.2" x2="683.6" y2="208.2" stroke="#555" stroke-width="1.2"/>
<line x1="613.8" y1="47.3" x2="615.9" y2="47.3" stroke="#333" stroke-width="0.8"/>
<line x1="613.8" y1="74.15" x2="615.9" y2="74.15" stroke="#333" stroke-width="0.8"/>
<line x1="613.8" y1="101.0" x2="615.9" y2="101.0" stroke="#333" stroke-width="0.8"/>
<line x1="613.8" y1="127.85000000000001" x2="615.9" y2="127.85000000000001" stroke="#333" stroke-width="0.8"/>
<line x1="613.8" y1="154.7" x2="615.9" y2="154.7" stroke="#333" stroke-width="0.8"/>
<line x1="613.8" y1="181.55" x2="615.9" y2="181.55" stroke="#333" stroke-width="0.8"/>
<line x1="613.8" y1="208.40000000000003" x2="615.9" y2="208.40000000000003" stroke="#333" stroke-width="0.8"/>
<text x="614.4" y="50.2" font-size="8.8" text-anchor="end" fill="#333">1.5×10<tspan font-size="6" dy="-3.3">6</tspan></text>
<text x="614.4" y="103.9" font-size="8.8" text-anchor="end" fill="#333">1.0×10<tspan font-size="6" dy="-3.3">6</tspan></text>
<text x="614.4" y="157.6" font-size="8.8" text-anchor="end" fill="#333">5.0×10<tspan font-size="6" dy="-3.3">5</tspan></text>
<text x="613.4" y="211.29999999999998" font-size="9" text-anchor="end" font-weight="normal" fill="#333">0.0</text>
<rect x="625.50" y="171.00" width="19.30" height="37.20" fill="#000"/>
<rect x="654.60" y="179.00" width="19.40" height="29.20" fill="#e8432c"/>
<line x1="635.2" y1="166.5" x2="635.2" y2="171" stroke="#000" stroke-width="0.9"/>
<line x1="631" y1="166.5" x2="639.4" y2="166.5" stroke="#000" stroke-width="0.9"/>
<line x1="664.3" y1="174.8" x2="664.3" y2="179.3" stroke="#000" stroke-width="0.9"/>
<line x1="659.2" y1="174.8" x2="669.4" y2="174.8" stroke="#000" stroke-width="0.9"/>
<circle cx="635.1" cy="69.3" r="1.05" fill="#9c1e1e"/>
<circle cx="635.1" cy="95.0" r="1.05" fill="#9c1e1e"/>
<circle cx="635.1" cy="124.0" r="1.05" fill="#9c1e1e"/>
<circle cx="635.1" cy="128.2" r="1.05" fill="#9c1e1e"/>
<circle cx="635.1" cy="142.2" r="1.05" fill="#9c1e1e"/>
<circle cx="635.1" cy="147.3" r="1.05" fill="#9c1e1e"/>
<circle cx="635.1" cy="151.9" r="1.05" fill="#9c1e1e"/>
<circle cx="635.1" cy="155.5" r="1.05" fill="#9c1e1e"/>
<circle cx="627.3" cy="158.1" r="1.05" fill="#9c1e1e"/>
<circle cx="633.5" cy="158.9" r="1.05" fill="#9c1e1e"/>
<circle cx="636.6" cy="158.6" r="1.05" fill="#9c1e1e"/>
<circle cx="639.4" cy="158.7" r="1.05" fill="#9c1e1e"/>
<circle cx="642.8" cy="158.2" r="1.05" fill="#9c1e1e"/>
<circle cx="627.0" cy="161.0" r="1.05" fill="#9c1e1e"/>
<circle cx="633.8" cy="160.9" r="1.05" fill="#9c1e1e"/>
<circle cx="639.2" cy="161.2" r="1.05" fill="#9c1e1e"/>
<circle cx="627.0" cy="163.3" r="1.05" fill="#9c1e1e"/>
<circle cx="630.2" cy="163.8" r="1.05" fill="#9c1e1e"/>
<circle cx="634.0" cy="163.9" r="1.05" fill="#9c1e1e"/>
<circle cx="636.4" cy="163.5" r="1.05" fill="#9c1e1e"/>
<circle cx="639.4" cy="163.9" r="1.05" fill="#9c1e1e"/>
<circle cx="642.6" cy="163.1" r="1.05" fill="#9c1e1e"/>
<circle cx="628.0" cy="165.7" r="1.05" fill="#9c1e1e"/>
<circle cx="630.0" cy="166.0" r="1.05" fill="#9c1e1e"/>
<circle cx="633.0" cy="166.0" r="1.05" fill="#9c1e1e"/>
<circle cx="639.4" cy="166.1" r="1.05" fill="#9c1e1e"/>
<circle cx="642.6" cy="165.7" r="1.05" fill="#9c1e1e"/>
<circle cx="633.6" cy="168.6" r="1.05" fill="#9c1e1e"/>
<circle cx="636.2" cy="169.0" r="1.05" fill="#9c1e1e"/>
<circle cx="642.7" cy="169.0" r="1.05" fill="#9c1e1e"/>
<circle cx="628.2" cy="172.5" r="1.05" fill="#9c1e1e"/>
<circle cx="631.8" cy="173.1" r="1.05" fill="#9c1e1e"/>
<circle cx="638.3" cy="173.4" r="1.05" fill="#9c1e1e"/>
<circle cx="641.9" cy="172.9" r="1.05" fill="#9c1e1e"/>
<circle cx="630.7" cy="176.9" r="1.05" fill="#9c1e1e"/>
<circle cx="634.9" cy="176.2" r="1.05" fill="#9c1e1e"/>
<circle cx="638.2" cy="176.0" r="1.05" fill="#9c1e1e"/>
<circle cx="641.4" cy="176.8" r="1.05" fill="#9c1e1e"/>
<circle cx="628.4" cy="180.4" r="1.05" fill="#9c1e1e"/>
<circle cx="631.8" cy="179.7" r="1.05" fill="#9c1e1e"/>
<circle cx="638.1" cy="180.6" r="1.05" fill="#9c1e1e"/>
<circle cx="641.8" cy="180.4" r="1.05" fill="#9c1e1e"/>
<circle cx="628.3" cy="183.1" r="1.05" fill="#9c1e1e"/>
<circle cx="634.3" cy="184.1" r="1.05" fill="#9c1e1e"/>
<circle cx="639.2" cy="184.1" r="1.05" fill="#9c1e1e"/>
<circle cx="641.2" cy="183.0" r="1.05" fill="#9c1e1e"/>
<circle cx="627.8" cy="187.1" r="1.05" fill="#9c1e1e"/>
<circle cx="634.4" cy="187.1" r="1.05" fill="#9c1e1e"/>
<circle cx="637.8" cy="187.1" r="1.05" fill="#9c1e1e"/>
<circle cx="641.3" cy="186.9" r="1.05" fill="#9c1e1e"/>
<circle cx="635.6" cy="190.1" r="1.05" fill="#9c1e1e"/>
<circle cx="630.9" cy="193.5" r="1.05" fill="#9c1e1e"/>
<circle cx="634.5" cy="194.2" r="1.05" fill="#9c1e1e"/>
<circle cx="638.9" cy="193.7" r="1.05" fill="#9c1e1e"/>
<circle cx="641.5" cy="193.9" r="1.05" fill="#9c1e1e"/>
<circle cx="627.8" cy="197.1" r="1.05" fill="#9c1e1e"/>
<circle cx="632.2" cy="197.5" r="1.05" fill="#9c1e1e"/>
<circle cx="639.3" cy="198.0" r="1.05" fill="#9c1e1e"/>
<circle cx="642.0" cy="197.5" r="1.05" fill="#9c1e1e"/>
<circle cx="664.1" cy="126.2" r="0.95" fill="#000"/>
<circle cx="664.1" cy="134.2" r="0.95" fill="#000"/>
<circle cx="664.1" cy="160.3" r="0.95" fill="#000"/>
<circle cx="664.1" cy="165.4" r="0.95" fill="#000"/>
<circle cx="664.1" cy="169.0" r="0.95" fill="#000"/>
<circle cx="665.0" cy="178.0" r="0.95" fill="#000"/>
<circle cx="660.0" cy="182.0" r="0.95" fill="#000"/>
<circle cx="668.0" cy="182.0" r="0.95" fill="#000"/>
<circle cx="662.0" cy="185.5" r="0.95" fill="#000"/>
<circle cx="670.0" cy="183.5" r="0.95" fill="#000"/>
<circle cx="657.5" cy="183.5" r="0.95" fill="#000"/>
<circle cx="661.0" cy="190.0" r="0.95" fill="#000"/>
<circle cx="668.0" cy="190.0" r="0.95" fill="#000"/>
<circle cx="658.0" cy="193.0" r="0.95" fill="#000"/>
<circle cx="666.0" cy="195.0" r="0.95" fill="#000"/>
<circle cx="670.5" cy="195.0" r="0.95" fill="#000"/>
<circle cx="659.0" cy="196.8" r="0.95" fill="#000"/>
<circle cx="663.0" cy="196.2" r="0.95" fill="#000"/>
<circle cx="665.5" cy="187.5" r="0.95" fill="#000"/>
<polyline points="635,64.8 635,61.5 664.2,61.5 664.2,124.5" fill="none" stroke="#333" stroke-width="0.9"/>
<text x="649.4" y="63.6" font-size="11.5" text-anchor="middle" font-weight="bold" fill="#000">*</text>
<line x1="635.3" y1="208.2" x2="635.3" y2="212" stroke="#555" stroke-width="1"/>
<line x1="664.7" y1="208.2" x2="664.7" y2="212" stroke="#555" stroke-width="1"/>
<text x="636.6" y="217.3" font-size="8.6" text-anchor="end" font-weight="bold" fill="#222" transform="rotate(-45 636.6 217.3)">young (5 mos)</text>
<text x="665.9" y="217.3" font-size="8.6" text-anchor="end" font-weight="bold" fill="#222" transform="rotate(-45 665.9 217.3)">aged (13mos)</text>
<text x="580.1" y="129.6" font-size="7.75" text-anchor="middle" font-weight="bold" fill="#000" transform="rotate(-90 580.1 129.6)">Fam49b signal in microglia (CTCF values)</text>
<text x="530.9" y="289.1" font-size="11.9" text-anchor="middle" font-weight="normal" fill="#000">FAM49B</text>
<line x1="500" y1="300.8" x2="500" y2="438.6" stroke="#222" stroke-width="1.1"/>
<line x1="496" y1="438.1" x2="562" y2="438.1" stroke="#222" stroke-width="1.1"/>
<line x1="496" y1="301.3" x2="500" y2="301.3" stroke="#222" stroke-width="1"/>
<text x="494.4" y="304.3" font-size="8.5" text-anchor="end" font-weight="normal" fill="#111">3000</text>
<line x1="496" y1="335.5" x2="500" y2="335.5" stroke="#222" stroke-width="1"/>
<text x="494.4" y="338.5" font-size="8.5" text-anchor="end" font-weight="normal" fill="#111">2500</text>
<line x1="496" y1="369.7" x2="500" y2="369.7" stroke="#222" stroke-width="1"/>
<text x="494.4" y="372.7" font-size="8.5" text-anchor="end" font-weight="normal" fill="#111">2000</text>
<line x1="496" y1="403.9" x2="500" y2="403.9" stroke="#222" stroke-width="1"/>
<text x="494.4" y="406.9" font-size="8.5" text-anchor="end" font-weight="normal" fill="#111">1500</text>
<line x1="496" y1="438.1" x2="500" y2="438.1" stroke="#222" stroke-width="1"/>
<text x="494.4" y="441.1" font-size="8.5" text-anchor="end" font-weight="normal" fill="#111">1000</text>
<rect x="509.10" y="337.90" width="17.90" height="100.20" fill="#000"/>
<rect x="536.10" y="368.00" width="17.80" height="70.10" fill="#e8432c"/>
<line x1="517.9" y1="336.1" x2="517.9" y2="338" stroke="#e8432c" stroke-width="0.9"/>
<line x1="513" y1="336.1" x2="522.7" y2="336.1" stroke="#e8432c" stroke-width="0.9"/>
<line x1="544.7" y1="364.4" x2="544.7" y2="369.3" stroke="#000" stroke-width="0.9"/>
<line x1="540.2" y1="364.4" x2="549" y2="364.4" stroke="#000" stroke-width="0.9"/>
<circle cx="517.9" cy="334.9" r="1.15" fill="#5a1410" stroke="#e8432c" stroke-width="0.8"/>
<circle cx="515.7" cy="340.3" r="1.15" fill="#5a1410" stroke="#e8432c" stroke-width="0.8"/>
<circle cx="520" cy="339.5" r="1.15" fill="#5a1410" stroke="#e8432c" stroke-width="0.8"/>
<circle cx="544.7" cy="361.5" r="1.2" fill="#000"/>
<circle cx="544.7" cy="369.3" r="1.2" fill="#000"/>
<circle cx="544.7" cy="373.9" r="1.2" fill="#000"/>
<polyline points="517.9,329.3 517.9,322.4 544.7,322.4 544.7,355.6" fill="none" stroke="#222" stroke-width="1"/>
<text x="531.6" y="321.5" font-size="14" text-anchor="middle" font-weight="bold" fill="#000">**</text>
<line x1="517.8" y1="438.1" x2="517.8" y2="442" stroke="#222" stroke-width="1"/>
<line x1="544.9" y1="438.1" x2="544.9" y2="442" stroke="#222" stroke-width="1"/>
<text x="520.8" y="448.9" font-size="10" text-anchor="end" font-weight="bold" fill="#000" transform="rotate(-45 520.8 448.9)">HMC3 ctrl.</text>
<text x="546.6" y="448.9" font-size="9.9" text-anchor="end" font-weight="bold" fill="#000" transform="rotate(-45 546.6 448.9)">HMC3 senescent</text>
<text x="471.8" y="369.7" font-size="10.1" text-anchor="middle" font-weight="bold" fill="#000" transform="rotate(-90 471.8 369.7)">normalized counts</text>
<g clip-path="url(#cp1)">
<rect x="14.40" y="268.00" width="116.90" height="116.10" fill="#1e3414"/>
<polygon points="4.4,258.0 141.3,258.0 131.3,290.0 70.0,300.0 4.4,325.0" fill="#0e1c0a" filter="url(#bl8)" opacity="0.95"/>
<polygon points="14.4,368.0 60.0,350.0 100.0,318.0 136.3,300.0 136.3,389.1 14.4,389.1" fill="#36561f" filter="url(#bl4)" opacity="0.95"/>
<rect x="14.4" y="268" width="116.9" height="116.1" fill="#000" filter="url(#nz1)"/>
<rect x="14.4" y="268" width="116.9" height="116.1" fill="#000" filter="url(#nz2)"/>
<g mask="url(#mk1)">
<rect x="14.40" y="268.00" width="116.90" height="116.10" fill="#5f7a55" opacity="0.6"/>
<rect x="14.4" y="268" width="116.9" height="116.1" fill="#000" filter="url(#nz3)"/>
</g>
<rect x="14.4" y="268" width="116.9" height="116.1" fill="#000" filter="url(#nz4)"/>
<path d="M132.3 324.5 Q 118 350 83.7 385.1 L 132.3 385.1 Z" fill="#000"/>
<path d="M131.3 325 Q 126 332 122 340" fill="none" stroke="#6ad050" stroke-width="1.1" opacity="0.8"/>
<path d="M67.4 334.6 Q 64 348 67 360 Q 70 372 68.6 384" fill="none" stroke="#050a03" stroke-width="1.3"/>
</g>
<rect x="82.8" y="296.7" width="20.0" height="20.3" fill="none" stroke="#e3b238" stroke-width="1.1" stroke-dasharray="3,1.8"/>
<line x1="102.8" y1="296.7" x2="133" y2="268.2" stroke="#e3b238" stroke-width="1.1" stroke-dasharray="3,1.8"/>
<line x1="102.8" y1="317" x2="133.2" y2="384" stroke="#e3b238" stroke-width="1.1" stroke-dasharray="3,1.8"/>
<text x="17.5" y="279.7" font-size="12.5" text-anchor="start" font-weight="bold" fill="#62b84e">Fam49b</text>
<text x="17.5" y="294.7" font-size="12.5" font-weight="bold" fill="#e8392c">Iba1 <tspan fill="#fff">Th</tspan></text>
<text x="128.2" y="382.8" font-size="9.4" text-anchor="end" font-weight="bold" fill="#fff">10x</text>
<g clip-path="url(#cp2)">
<rect x="133.70" y="268.10" width="117.40" height="116.10" fill="#2a4e26"/>
<rect x="133.7" y="268.1" width="117.4" height="116.1" fill="#000" filter="url(#nz5)"/>
<rect x="133.7" y="268.1" width="117.4" height="116.1" fill="#000" filter="url(#nz6)"/>
<g mask="url(#mk2)">
<rect x="133.7" y="268.1" width="117.4" height="116.1" fill="#000" filter="url(#nz7)"/>
</g>
<ellipse cx="153.6" cy="304.6" rx="7" ry="5" fill="#7a9072" stroke="#aabba2" stroke-width="1.2" opacity="0.35" transform="rotate(-20 153.6 304.6)" filter="url(#bl05)"/>
<ellipse cx="185.6" cy="302.3" rx="7" ry="5.5" fill="#7a9072" stroke="#aabba2" stroke-width="1.2" opacity="0.35" transform="rotate(10 185.6 302.3)" filter="url(#bl05)"/>
<ellipse cx="183.3" cy="313" rx="6" ry="5" fill="#7a9072" stroke="#aabba2" stroke-width="1.2" opacity="0.35" transform="rotate(0 183.3 313)" filter="url(#bl05)"/>
<ellipse cx="201.6" cy="298.9" rx="6" ry="5" fill="#7a9072" stroke="#aabba2" stroke-width="1.2" opacity="0.35" transform="rotate(-30 201.6 298.9)" filter="url(#bl05)"/>
<ellipse cx="144.4" cy="336.6" rx="6" ry="7" fill="#7a9072" stroke="#aabba2" stroke-width="1.2" opacity="0.35" transform="rotate(0 144.4 336.6)" filter="url(#bl05)"/>
<ellipse cx="176.4" cy="325.1" rx="6" ry="5" fill="#7a9072" stroke="#aabba2" stroke-width="1.2" opacity="0.35" transform="rotate(20 176.4 325.1)" filter="url(#bl05)"/>
<ellipse cx="229" cy="350" rx="6" ry="5" fill="#7a9072" stroke="#aabba2" stroke-width="1.2" opacity="0.35" transform="rotate(0 229 350)" filter="url(#bl05)"/>
<ellipse cx="137.6" cy="347" rx="5" ry="6" fill="#7a9072" stroke="#aabba2" stroke-width="1.2" opacity="0.35" transform="rotate(0 137.6 347)" filter="url(#bl05)"/>
<ellipse cx="163" cy="318" rx="6" ry="5" fill="#7a9072" stroke="#aabba2" stroke-width="1.2" opacity="0.35" transform="rotate(-10 163 318)" filter="url(#bl05)"/>
<ellipse cx="212" cy="288" rx="5" ry="4" fill="#7a9072" stroke="#aabba2" stroke-width="1.2" opacity="0.35" transform="rotate(0 212 288)" filter="url(#bl05)"/>
<path d="M153.1 350.7 Q 150.3 349.3 149.2 346.3" fill="none" stroke="#d0602a" stroke-width="0.8" opacity="0.6"/>
<path d="M228.5 331.5 Q 224.8 331.0 224.1 331.4" fill="none" stroke="#d0602a" stroke-width="0.8" opacity="0.6"/>
<path d="M202.4 283.6 Q 202.2 280.1 203.6 279.4" fill="none" stroke="#d0602a" stroke-width="0.8" opacity="0.6"/>
<path d="M250.8 356.0 Q 251.8 353.1 255.5 351.2" fill="none" stroke="#d0602a" stroke-width="0.8" opacity="0.6"/>
<path d="M192.1 288.6 Q 193.6 288.8 197.1 287.1" fill="none" stroke="#d0602a" stroke-width="0.8" opacity="0.6"/>
<path d="M148.4 376.4 Q 144.9 377.3 142.3 378.3" fill="none" stroke="#d0602a" stroke-width="0.8" opacity="0.6"/>
<path d="M155.6 280.1 Q 157.9 277.6 158.6 276.8" fill="none" stroke="#d0602a" stroke-width="0.8" opacity="0.6"/>
<path d="M247.4 372.7 Q 247.8 369.6 247.6 365.2" fill="none" stroke="#d0602a" stroke-width="0.8" opacity="0.6"/>
<path d="M148.1 327.6 Q 150.3 326.9 150.0 323.9" fill="none" stroke="#d0602a" stroke-width="0.8" opacity="0.6"/>
<path d="M181.8 315.6 Q 180.7 316.0 176.7 317.2" fill="none" stroke="#d0602a" stroke-width="0.8" opacity="0.6"/>
<path d="M136.9 286.2 Q 135.9 281.8 135.0 277.4" fill="none" stroke="#d0602a" stroke-width="0.8" opacity="0.6"/>
<path d="M198.3 357.0 Q 199.1 360.6 199.5 363.5" fill="none" stroke="#d0602a" stroke-width="0.8" opacity="0.6"/>
<path d="M154.9 294.5 Q 152.0 298.3 150.0 301.5" fill="none" stroke="#d0602a" stroke-width="0.8" opacity="0.6"/>
<path d="M169.7 287.3 Q 174.1 288.5 176.9 290.4" fill="none" stroke="#d0602a" stroke-width="0.8" opacity="0.6"/>
<path d="M213.9 349.2 Q 217.2 348.0 220.9 343.9" fill="none" stroke="#d0602a" stroke-width="0.8" opacity="0.6"/>
<path d="M246.6 339.9 Q 248.4 337.2 251.0 335.9" fill="none" stroke="#d0602a" stroke-width="0.8" opacity="0.6"/>
<path d="M236.6 293.6 Q 240.9 295.2 243.7 296.9" fill="none" stroke="#d0602a" stroke-width="0.8" opacity="0.6"/>
<path d="M232.0 281.7 Q 231.6 283.1 231.7 286.5" fill="none" stroke="#d0602a" stroke-width="0.8" opacity="0.6"/>
<path d="M141.9 312.6 Q 146.2 309.9 149.0 307.4" fill="none" stroke="#d0602a" stroke-width="0.8" opacity="0.6"/>
<path d="M163.3 379.8 Q 158.3 378.3 156.0 378.6" fill="none" stroke="#d0602a" stroke-width="0.8" opacity="0.6"/>
<path d="M232.1 362.1 Q 234.3 360.1 237.0 357.6" fill="none" stroke="#d0602a" stroke-width="0.8" opacity="0.6"/>
<path d="M233.4 309.4 Q 231.9 307.4 228.9 308.4" fill="none" stroke="#d0602a" stroke-width="0.8" opacity="0.6"/>
<path d="M214.2 379.2 Q 217.8 380.8 220.6 380.2" fill="none" stroke="#d0602a" stroke-width="0.8" opacity="0.6"/>
<path d="M202.3 303.9 Q 199.9 305.3 195.1 308.8" fill="none" stroke="#d0602a" stroke-width="0.8" opacity="0.6"/>
<path d="M144.8 286.3 Q 146.6 287.8 150.4 287.2" fill="none" stroke="#d0602a" stroke-width="0.8" opacity="0.6"/>
<path d="M210.6 289.8 Q 208.2 288.3 205.8 288.6" fill="none" stroke="#d0602a" stroke-width="0.8" opacity="0.6"/>
<circle cx="146.7" cy="316" r="1.4" fill="#d05a2c" opacity="0.7"/>
<path d="M146.7 316 Q 149.1 318.7 149.9 320.2" fill="none" stroke="#d05a2c" stroke-width="1.0" opacity="0.7" stroke-linecap="round"/>
<path d="M146.7 316 Q 147.3 313.5 146.1 310.9" fill="none" stroke="#d05a2c" stroke-width="1.0" opacity="0.7" stroke-linecap="round"/>
<path d="M146.7 316 Q 147.7 318.6 151.3 318.5" fill="none" stroke="#d05a2c" stroke-width="1.0" opacity="0.7" stroke-linecap="round"/>
<path d="M146.7 316 Q 148.3 316.0 151.1 314.5" fill="none" stroke="#d05a2c" stroke-width="1.0" opacity="0.7" stroke-linecap="round"/>
<path d="M146.7 316 Q 146.3 317.4 147.8 319.7" fill="none" stroke="#d05a2c" stroke-width="1.0" opacity="0.7" stroke-linecap="round"/>
<circle cx="185.6" cy="348" r="1.4" fill="#d05a2c" opacity="0.7"/>
<path d="M185.6 348 Q 185.3 348.3 182.1 346.1" fill="none" stroke="#d05a2c" stroke-width="1.0" opacity="0.7" stroke-linecap="round"/>
<path d="M185.6 348 Q 181.7 347.8 179.4 349.3" fill="none" stroke="#d05a2c" stroke-width="1.0" opacity="0.7" stroke-linecap="round"/>
<path d="M185.6 348 Q 184.0 352.6 184.1 354.3" fill="none" stroke="#d05a2c" stroke-width="1.0" opacity="0.7" stroke-linecap="round"/>
<path d="M185.6 348 Q 186.2 349.7 189.2 349.7" fill="none" stroke="#d05a2c" stroke-width="1.0" opacity="0.7" stroke-linecap="round"/>
<path d="M185.6 348 Q 183.3 350.4 182.0 352.0" fill="none" stroke="#d05a2c" stroke-width="1.0" opacity="0.7" stroke-linecap="round"/>
<circle cx="235.9" cy="343.4" r="1.4" fill="#d05a2c" opacity="0.7"/>
<path d="M235.9 343.4 Q 236.7 346.5 239.5 348.3" fill="none" stroke="#d05a2c" stroke-width="1.0" opacity="0.7" stroke-linecap="round"/>
<path d="M235.9 343.4 Q 234.3 342.1 232.1 340.3" fill="none" stroke="#d05a2c" stroke-width="1.0" opacity="0.7" stroke-linecap="round"/>
<path d="M235.9 343.4 Q 239.0 344.2 241.3 344.9" fill="none" stroke="#d05a2c" stroke-width="1.0" opacity="0.7" stroke-linecap="round"/>
<path d="M235.9 343.4 Q 238.0 340.3 240.8 338.8" fill="none" stroke="#d05a2c" stroke-width="1.0" opacity="0.7" stroke-linecap="round"/>
<path d="M235.9 343.4 Q 238.9 346.3 240.8 348.5" fill="none" stroke="#d05a2c" stroke-width="1.0" opacity="0.7" stroke-linecap="round"/>
<circle cx="224.4" cy="300" r="1.4" fill="#d05a2c" opacity="0.7"/>
<path d="M224.4 300 Q 227.7 300.4 229.6 299.3" fill="none" stroke="#d05a2c" stroke-width="1.0" opacity="0.7" stroke-linecap="round"/>
<path d="M224.4 300 Q 225.1 300.5 225.1 303.3" fill="none" stroke="#d05a2c" stroke-width="1.0" opacity="0.7" stroke-linecap="round"/>
<path d="M224.4 300 Q 222.8 301.4 218.9 305.0" fill="none" stroke="#d05a2c" stroke-width="1.0" opacity="0.7" stroke-linecap="round"/>
<path d="M224.4 300 Q 227.2 299.6 228.0 302.0" fill="none" stroke="#d05a2c" stroke-width="1.0" opacity="0.7" stroke-linecap="round"/>
<path d="M224.4 300 Q 223.6 301.8 224.9 303.5" fill="none" stroke="#d05a2c" stroke-width="1.0" opacity="0.7" stroke-linecap="round"/>
<circle cx="160.4" cy="359.4" r="1.4" fill="#d05a2c" opacity="0.7"/>
<path d="M160.4 359.4 Q 164.7 357.7 167.5 357.6" fill="none" stroke="#d05a2c" stroke-width="1.0" opacity="0.7" stroke-linecap="round"/>
<path d="M160.4 359.4 Q 159.7 360.8 157.2 365.1" fill="none" stroke="#d05a2c" stroke-width="1.0" opacity="0.7" stroke-linecap="round"/>
<path d="M160.4 359.4 Q 161.1 363.1 164.1 365.9" fill="none" stroke="#d05a2c" stroke-width="1.0" opacity="0.7" stroke-linecap="round"/>
<path d="M160.4 359.4 Q 160.0 362.4 157.4 364.9" fill="none" stroke="#d05a2c" stroke-width="1.0" opacity="0.7" stroke-linecap="round"/>
<path d="M160.4 359.4 Q 159.0 361.2 156.8 362.3" fill="none" stroke="#d05a2c" stroke-width="1.0" opacity="0.7" stroke-linecap="round"/>
<circle cx="238" cy="368.6" r="1.4" fill="#d05a2c" opacity="0.7"/>
<path d="M238 368.6 Q 240.6 368.3 241.4 365.3" fill="none" stroke="#d05a2c" stroke-width="1.0" opacity="0.7" stroke-linecap="round"/>
<path d="M238 368.6 Q 236.2 370.8 235.4 374.9" fill="none" stroke="#d05a2c" stroke-width="1.0" opacity="0.7" stroke-linecap="round"/>
<path d="M238 368.6 Q 235.0 371.8 234.1 374.1" fill="none" stroke="#d05a2c" stroke-width="1.0" opacity="0.7" stroke-linecap="round"/>
<path d="M238 368.6 Q 236.6 369.8 235.7 371.7" fill="none" stroke="#d05a2c" stroke-width="1.0" opacity="0.7" stroke-linecap="round"/>
<path d="M238 368.6 Q 235.7 368.7 230.8 370.4" fill="none" stroke="#d05a2c" stroke-width="1.0" opacity="0.7" stroke-linecap="round"/>
<circle cx="213" cy="366" r="1.4" fill="#d05a2c" opacity="0.7"/>
<path d="M213 366 Q 210.6 363.7 211.2 358.7" fill="none" stroke="#d05a2c" stroke-width="1.0" opacity="0.7" stroke-linecap="round"/>
<path d="M213 366 Q 214.6 365.4 214.4 363.0" fill="none" stroke="#d05a2c" stroke-width="1.0" opacity="0.7" stroke-linecap="round"/>
<path d="M213 366 Q 214.1 369.5 216.0 373.3" fill="none" stroke="#d05a2c" stroke-width="1.0" opacity="0.7" stroke-linecap="round"/>
<path d="M213 366 Q 211.9 362.7 209.3 360.7" fill="none" stroke="#d05a2c" stroke-width="1.0" opacity="0.7" stroke-linecap="round"/>
<path d="M213 366 Q 210.5 366.2 209.3 366.4" fill="none" stroke="#d05a2c" stroke-width="1.0" opacity="0.7" stroke-linecap="round"/>
<circle cx="200" cy="330" r="1.4" fill="#d05a2c" opacity="0.7"/>
<path d="M200 330 Q 201.5 333.4 200.1 335.9" fill="none" stroke="#d05a2c" stroke-width="1.0" opacity="0.7" stroke-linecap="round"/>
<path d="M200 330 Q 196.7 331.7 195.5 330.5" fill="none" stroke="#d05a2c" stroke-width="1.0" opacity="0.7" stroke-linecap="round"/>
<path d="M200 330 Q 200.3 328.5 200.1 325.8" fill="none" stroke="#d05a2c" stroke-width="1.0" opacity="0.7" stroke-linecap="round"/>
<path d="M200 330 Q 201.3 327.8 203.7 327.6" fill="none" stroke="#d05a2c" stroke-width="1.0" opacity="0.7" stroke-linecap="round"/>
<path d="M200 330 Q 197.5 326.9 193.6 325.9" fill="none" stroke="#d05a2c" stroke-width="1.0" opacity="0.7" stroke-linecap="round"/>
<circle cx="172" cy="285" r="1.4" fill="#d05a2c" opacity="0.7"/>
<path d="M172 285 Q 175.6 287.2 176.8 290.2" fill="none" stroke="#d05a2c" stroke-width="1.0" opacity="0.7" stroke-linecap="round"/>
<path d="M172 285 Q 170.4 286.1 171.3 288.9" fill="none" stroke="#d05a2c" stroke-width="1.0" opacity="0.7" stroke-linecap="round"/>
<path d="M172 285 Q 172.2 287.5 174.2 291.9" fill="none" stroke="#d05a2c" stroke-width="1.0" opacity="0.7" stroke-linecap="round"/>
<path d="M172 285 Q 174.2 282.8 178.8 281.7" fill="none" stroke="#d05a2c" stroke-width="1.0" opacity="0.7" stroke-linecap="round"/>
<path d="M172 285 Q 174.9 285.4 176.9 284.6" fill="none" stroke="#d05a2c" stroke-width="1.0" opacity="0.7" stroke-linecap="round"/>
<circle cx="243" cy="318" r="1.4" fill="#d05a2c" opacity="0.7"/>
<path d="M243 318 Q 242.7 319.4 242.0 323.2" fill="none" stroke="#d05a2c" stroke-width="1.0" opacity="0.7" stroke-linecap="round"/>
<path d="M243 318 Q 239.3 318.0 235.2 317.9" fill="none" stroke="#d05a2c" stroke-width="1.0" opacity="0.7" stroke-linecap="round"/>
<path d="M243 318 Q 243.0 316.5 244.3 312.9" fill="none" stroke="#d05a2c" stroke-width="1.0" opacity="0.7" stroke-linecap="round"/>
<path d="M243 318 Q 246.0 321.4 246.7 324.5" fill="none" stroke="#d05a2c" stroke-width="1.0" opacity="0.7" stroke-linecap="round"/>
<path d="M243 318 Q 240.4 318.6 239.7 317.7" fill="none" stroke="#d05a2c" stroke-width="1.0" opacity="0.7" stroke-linecap="round"/>
</g>
<rect x="211" y="358.3" width="38.0" height="25.1" fill="none" stroke="#e3b238" stroke-width="1.1" stroke-dasharray="3,1.8"/>
<line x1="249.5" y1="358.3" x2="255.8" y2="268" stroke="#e3b238" stroke-width="1.1" stroke-dasharray="3,1.8"/>
<text x="137.8" y="279.8" font-size="12.5" text-anchor="start" font-weight="bold" fill="#62b84e">Fam49b</text>
<text x="137.8" y="294.8" font-size="12.5" font-weight="bold" fill="#e8392c">Iba1 <tspan fill="#fff">Th</tspan></text>
<text x="248.4" y="278.5" font-size="10" text-anchor="end" font-weight="bold" fill="#fff">60x</text>
<rect x="138.60" y="375.20" width="10.90" height="4.80" fill="#000" stroke="#fff" stroke-width="0.6"/>
<text x="144" y="379.2" font-size="3.2" text-anchor="middle" font-weight="normal" fill="#fff">20um</text>
<g clip-path="url(#cp3)">
<rect x="255.80" y="267.90" width="81.20" height="55.90" fill="#2c5222"/>
<rect x="255.8" y="267.9" width="81.2" height="55.9" fill="#000" filter="url(#nz8)"/>
<rect x="255.8" y="267.9" width="81.2" height="55.9" fill="#000" filter="url(#nz9)"/>
<ellipse cx="307" cy="299" rx="4" ry="5" fill="#d0482a" opacity="0.8" filter="url(#bl05)"/>
<ellipse cx="309" cy="309" rx="3" ry="4" fill="#d0482a" opacity="0.75" filter="url(#bl05)"/>
<circle cx="307" cy="300" r="1.5" fill="#d0482a" opacity="0.75"/>
<path d="M307 300 Q 306.1 301.4 304.3 305.4" fill="none" stroke="#d0482a" stroke-width="1.2" opacity="0.75" stroke-linecap="round"/>
<path d="M307 300 Q 302.0 299.2 299.6 298.3" fill="none" stroke="#d0482a" stroke-width="1.2" opacity="0.75" stroke-linecap="round"/>
<path d="M307 300 Q 309.6 299.7 314.8 301.9" fill="none" stroke="#d0482a" stroke-width="1.2" opacity="0.75" stroke-linecap="round"/>
<path d="M307 300 Q 301.1 301.6 297.4 304.9" fill="none" stroke="#d0482a" stroke-width="1.2" opacity="0.75" stroke-linecap="round"/>
<path d="M307 300 Q 303.2 295.5 298.9 291.6" fill="none" stroke="#d0482a" stroke-width="1.2" opacity="0.75" stroke-linecap="round"/>
<path d="M307 300 Q 310.7 299.0 312.3 299.2" fill="none" stroke="#d0482a" stroke-width="1.2" opacity="0.75" stroke-linecap="round"/>
<path d="M307 300 Q 308.2 303.2 310.6 304.6" fill="none" stroke="#d0482a" stroke-width="1.2" opacity="0.75" stroke-linecap="round"/>
<circle cx="258" cy="306" r="2.5" fill="#d0482a" opacity="0.75"/>
<path d="M258 306 Q 257.4 310.0 259.0 312.8" fill="none" stroke="#d0482a" stroke-width="1.2" opacity="0.75" stroke-linecap="round"/>
<path d="M258 306 Q 261.2 306.1 261.4 308.0" fill="none" stroke="#d0482a" stroke-width="1.2" opacity="0.75" stroke-linecap="round"/>
<path d="M258 306 Q 256.3 304.1 255.0 302.2" fill="none" stroke="#d0482a" stroke-width="1.2" opacity="0.75" stroke-linecap="round"/>
<path d="M258 306 Q 257.9 308.2 260.2 311.9" fill="none" stroke="#d0482a" stroke-width="1.2" opacity="0.75" stroke-linecap="round"/>
<path d="M256.8 278.6 Q 252.9 279.7 251.2 283.1" fill="none" stroke="#c8582a" stroke-width="0.8" opacity="0.7"/>
<path d="M274.6 311.5 Q 277.3 313.3 279.1 317.4" fill="none" stroke="#c8582a" stroke-width="0.8" opacity="0.7"/>
<path d="M299.3 295.7 Q 294.2 296.6 291.6 300.4" fill="none" stroke="#c8582a" stroke-width="0.8" opacity="0.7"/>
<path d="M332.1 293.4 Q 332.5 297.1 333.7 298.1" fill="none" stroke="#c8582a" stroke-width="0.8" opacity="0.7"/>
<path d="M272.9 283.9 Q 271.5 283.4 267.5 280.8" fill="none" stroke="#c8582a" stroke-width="0.8" opacity="0.7"/>
<path d="M284.7 283.3 Q 285.6 280.2 289.3 275.6" fill="none" stroke="#c8582a" stroke-width="0.8" opacity="0.7"/>
<path d="M326.3 306.0 Q 327.8 308.9 327.9 313.7" fill="none" stroke="#c8582a" stroke-width="0.8" opacity="0.7"/>
<path d="M307.8 284.1 Q 309.8 284.4 312.7 285.3" fill="none" stroke="#c8582a" stroke-width="0.8" opacity="0.7"/>
<path d="M308.3 315.5 Q 314.1 315.3 316.9 313.3" fill="none" stroke="#c8582a" stroke-width="0.8" opacity="0.7"/>
<path d="M280.7 281.9 Q 279.0 278.5 276.2 277.5" fill="none" stroke="#c8582a" stroke-width="0.8" opacity="0.7"/>
<path d="M271.5 319.8 Q 267.4 317.3 265.7 315.5" fill="none" stroke="#c8582a" stroke-width="0.8" opacity="0.7"/>
<path d="M329.7 306.0 Q 331.7 306.7 333.9 305.7" fill="none" stroke="#c8582a" stroke-width="0.8" opacity="0.7"/>
<path d="M291.9 313.1 Q 289.0 313.8 288.5 311.7" fill="none" stroke="#c8582a" stroke-width="0.8" opacity="0.7"/>
<path d="M265.5 282.8 Q 264.7 285.8 261.8 289.0" fill="none" stroke="#c8582a" stroke-width="0.8" opacity="0.7"/>
<path d="M296.2 313.0 Q 296.1 316.0 295.3 318.2" fill="none" stroke="#c8582a" stroke-width="0.8" opacity="0.7"/>
<path d="M258.9 278.6 Q 261.9 282.8 263.7 284.2" fill="none" stroke="#c8582a" stroke-width="0.8" opacity="0.7"/>
<path d="M318.1 285.9 Q 318.1 280.0 319.0 277.0" fill="none" stroke="#c8582a" stroke-width="0.8" opacity="0.7"/>
<path d="M286.3 287.3 Q 285.9 289.8 287.7 290.2" fill="none" stroke="#c8582a" stroke-width="0.8" opacity="0.7"/>
</g>
<text x="258" y="275.6" font-size="7.2" text-anchor="start" font-weight="bold" fill="#62b84e">Fam49b</text>
<text x="258" y="284.6" font-size="7.2" font-weight="bold" fill="#e8392c">Iba1 <tspan fill="#fff">Th</tspan></text>
<g clip-path="url(#cp4)">
<rect x="340.10" y="267.90" width="80.70" height="55.90" fill="#080101"/>
<rect x="340.1" y="267.9" width="80.7" height="55.9" fill="#000" filter="url(#nz10)"/>
<ellipse cx="392" cy="299" rx="4" ry="5" fill="#d83a26" opacity="0.85" filter="url(#bl05)"/>
<ellipse cx="394" cy="309" rx="3" ry="4" fill="#d83a26" opacity="0.8" filter="url(#bl05)"/>
<circle cx="392" cy="300" r="1.5" fill="#d83a26" opacity="0.8"/>
<path d="M392 300 Q 391.1 301.4 389.3 305.4" fill="none" stroke="#d83a26" stroke-width="1.2" opacity="0.8" stroke-linecap="round"/>
<path d="M392 300 Q 387.0 299.2 384.6 298.3" fill="none" stroke="#d83a26" stroke-width="1.2" opacity="0.8" stroke-linecap="round"/>
<path d="M392 300 Q 394.6 299.7 399.8 301.9" fill="none" stroke="#d83a26" stroke-width="1.2" opacity="0.8" stroke-linecap="round"/>
<path d="M392 300 Q 386.1 301.6 382.4 304.9" fill="none" stroke="#d83a26" stroke-width="1.2" opacity="0.8" stroke-linecap="round"/>
<path d="M392 300 Q 388.2 295.5 383.9 291.6" fill="none" stroke="#d83a26" stroke-width="1.2" opacity="0.8" stroke-linecap="round"/>
<path d="M392 300 Q 395.7 299.0 397.3 299.2" fill="none" stroke="#d83a26" stroke-width="1.2" opacity="0.8" stroke-linecap="round"/>
<path d="M392 300 Q 393.2 303.2 395.6 304.6" fill="none" stroke="#d83a26" stroke-width="1.2" opacity="0.8" stroke-linecap="round"/>
<circle cx="344" cy="306" r="2.5" fill="#d83a26" opacity="0.8"/>
<path d="M344 306 Q 343.4 310.0 345.0 312.8" fill="none" stroke="#d83a26" stroke-width="1.2" opacity="0.8" stroke-linecap="round"/>
<path d="M344 306 Q 347.2 306.1 347.4 308.0" fill="none" stroke="#d83a26" stroke-width="1.2" opacity="0.8" stroke-linecap="round"/>
<path d="M344 306 Q 342.3 304.1 341.0 302.2" fill="none" stroke="#d83a26" stroke-width="1.2" opacity="0.8" stroke-linecap="round"/>
<path d="M344 306 Q 343.9 308.2 346.2 311.9" fill="none" stroke="#d83a26" stroke-width="1.2" opacity="0.8" stroke-linecap="round"/>
<path d="M370.8 284.6 Q 373.2 288.9 375.1 292.0" fill="none" stroke="#b82818" stroke-width="0.8" opacity="0.8"/>
<path d="M384.7 292.4 Q 385.2 289.7 384.0 286.0" fill="none" stroke="#b82818" stroke-width="0.8" opacity="0.8"/>
<path d="M407.8 295.3 Q 409.6 295.9 410.0 298.5" fill="none" stroke="#b82818" stroke-width="0.8" opacity="0.8"/>
<path d="M392.9 304.5 Q 395.1 307.0 400.1 307.3" fill="none" stroke="#b82818" stroke-width="0.8" opacity="0.8"/>
<path d="M408.0 283.9 Q 406.3 280.7 406.9 276.6" fill="none" stroke="#b82818" stroke-width="0.8" opacity="0.8"/>
<path d="M350.1 319.4 Q 347.1 314.7 346.7 311.2" fill="none" stroke="#b82818" stroke-width="0.8" opacity="0.8"/>
<path d="M390.1 303.9 Q 392.9 307.1 393.6 311.4" fill="none" stroke="#b82818" stroke-width="0.8" opacity="0.8"/>
<path d="M351.9 306.9 Q 348.9 308.5 346.1 310.7" fill="none" stroke="#b82818" stroke-width="0.8" opacity="0.8"/>
<path d="M341.8 279.8 Q 338.1 281.5 334.7 281.7" fill="none" stroke="#b82818" stroke-width="0.8" opacity="0.8"/>
<path d="M383.7 317.7 Q 381.2 314.4 380.9 313.6" fill="none" stroke="#b82818" stroke-width="0.8" opacity="0.8"/>
<path d="M343.3 316.8 Q 344.8 314.6 348.6 311.5" fill="none" stroke="#b82818" stroke-width="0.8" opacity="0.8"/>
<path d="M350.4 318.2 Q 348.6 314.8 346.2 311.9" fill="none" stroke="#b82818" stroke-width="0.8" opacity="0.8"/>
<path d="M408.6 321.8 Q 409.4 325.2 408.9 327.5" fill="none" stroke="#b82818" stroke-width="0.8" opacity="0.8"/>
<path d="M373.2 295.8 Q 374.6 295.9 377.8 294.9" fill="none" stroke="#b82818" stroke-width="0.8" opacity="0.8"/>
<path d="M362.5 318.6 Q 360.1 323.5 358.5 326.2" fill="none" stroke="#b82818" stroke-width="0.8" opacity="0.8"/>
<path d="M400.7 310.2 Q 399.8 311.1 401.6 314.0" fill="none" stroke="#b82818" stroke-width="0.8" opacity="0.8"/>
<path d="M393.9 276.2 Q 393.1 278.9 394.4 282.6" fill="none" stroke="#b82818" stroke-width="0.8" opacity="0.8"/>
<path d="M358.5 307.3 Q 362.1 311.0 365.1 313.4" fill="none" stroke="#b82818" stroke-width="0.8" opacity="0.8"/>
<path d="M384.7 298.2 Q 389.8 296.1 392.9 296.7" fill="none" stroke="#b82818" stroke-width="0.8" opacity="0.8"/>
<path d="M387.7 320.8 Q 386.2 317.5 383.7 316.2" fill="none" stroke="#b82818" stroke-width="0.8" opacity="0.8"/>
<path d="M398.8 312.8 Q 401.8 313.7 404.3 315.4" fill="none" stroke="#b82818" stroke-width="0.8" opacity="0.8"/>
<path d="M395.1 319.8 Q 396.1 319.5 399.1 317.1" fill="none" stroke="#b82818" stroke-width="0.8" opacity="0.8"/>
<path d="M389.5 315.1 Q 391.3 312.8 392.7 311.7" fill="none" stroke="#b82818" stroke-width="0.8" opacity="0.8"/>
<path d="M404.5 308.1 Q 404.9 310.3 404.9 314.1" fill="none" stroke="#b82818" stroke-width="0.8" opacity="0.8"/>
<path d="M354.8 297.0 Q 358.8 299.3 360.2 299.7" fill="none" stroke="#b82818" stroke-width="0.8" opacity="0.8"/>
<path d="M344.5 314.9 Q 342.3 312.2 343.0 307.8" fill="none" stroke="#b82818" stroke-width="0.8" opacity="0.8"/>
<path d="M355.9 313.8 Q 353.7 317.2 353.6 318.4" fill="none" stroke="#b82818" stroke-width="0.8" opacity="0.8"/>
<path d="M358.0 317.3 Q 356.5 317.3 354.1 317.0" fill="none" stroke="#b82818" stroke-width="0.8" opacity="0.8"/>
<path d="M342.3 314.8 Q 342.9 317.1 341.9 317.9" fill="none" stroke="#b82818" stroke-width="0.8" opacity="0.8"/>
<path d="M371.2 282.4 Q 368.6 281.8 364.8 281.3" fill="none" stroke="#b82818" stroke-width="0.8" opacity="0.8"/>
</g>
<text x="342.3" y="275.6" font-size="7.2" text-anchor="start" font-weight="bold" fill="#e8392c">Iba1</text>
<g clip-path="url(#cp5)">
<rect x="340.10" y="328.00" width="80.70" height="55.40" fill="#26521c"/>
<rect x="340.1" y="328" width="80.7" height="55.4" fill="#000" filter="url(#nz11)"/>
<rect x="340.1" y="328" width="80.7" height="55.4" fill="#000" filter="url(#nz12)"/>
<path d="M392 348 Q 399 355 397 370 Q 390 362 392 348 Z" fill="#4a9a3a" opacity="0.5" filter="url(#bl2)"/>
</g>
<text x="342.3" y="335.7" font-size="7.2" text-anchor="start" font-weight="bold" fill="#62b84e">Fam49b</text>
<text x="260.3" y="379" font-size="17.2" text-anchor="start" font-weight="normal" fill="#000">5 months</text>
<text x="255.3" y="409.2" font-size="17.2" text-anchor="start" font-weight="normal" fill="#000">13 months</text>
<rect x="14.40" y="387.60" width="406.40" height="2.40" fill="#000"/>
<g clip-path="url(#cp6)">
<rect x="14.40" y="392.40" width="117.10" height="116.00" fill="#3a4622"/>
<polygon points="4.4,382.4 141.5,382.4 141.5,470.0 70.0,425.0 4.4,405.0" fill="#2a2c18" filter="url(#bl8)" opacity="0.9"/>
<polygon points="4.4,425.0 60.0,445.0 105.0,518.4 4.4,518.4" fill="#4e6428" filter="url(#bl4)" opacity="0.85"/>
<rect x="14.4" y="392.4" width="117.1" height="116.0" fill="#000" filter="url(#nz13)"/>
<rect x="14.4" y="392.4" width="117.1" height="116.0" fill="#000" filter="url(#nz14)"/>
<g mask="url(#mk3)">
<rect x="14.40" y="392.40" width="117.10" height="116.00" fill="#6a7258" opacity="0.45"/>
<rect x="14.4" y="392.4" width="117.1" height="116.0" fill="#000" filter="url(#nz15)"/>
</g>
<g mask="url(#mk4)">
<rect x="14.4" y="392.4" width="117.1" height="116.0" fill="#000" filter="url(#nz16)"/>
</g>
<rect x="14.4" y="392.4" width="117.1" height="116.0" fill="#000" filter="url(#nz17)"/>
<path d="M13.4 479 Q 26 496 44 509.4 L 13.4 509.4 Z" fill="#000"/>
<path d="M14.4 480 Q 26 496 44 508.4" fill="none" stroke="#5cc040" stroke-width="1.2"/>
<path d="M101 482 Q 97 494 94.5 508" fill="none" stroke="#4cb038" stroke-width="1" opacity="0.6"/>
</g>
<rect x="36.4" y="412.1" width="19.9" height="19.2" fill="none" stroke="#e3b238" stroke-width="1.1" stroke-dasharray="3,1.8"/>
<line x1="56.3" y1="412.1" x2="131.5" y2="392.4" stroke="#e3b238" stroke-width="1.1" stroke-dasharray="3,1.8"/>
<line x1="56.3" y1="431.3" x2="129.5" y2="504" stroke="#e3b238" stroke-width="1.1" stroke-dasharray="3,1.8"/>
<text x="17.4" y="487.6" font-size="12.5" text-anchor="start" font-weight="bold" fill="#62b84e">Fam49b</text>
<text x="17.4" y="502.2" font-size="12.5" font-weight="bold" fill="#e8392c">Iba1 <tspan fill="#fff">Th</tspan></text>
<text x="119.7" y="505.8" font-size="9.4" text-anchor="end" font-weight="bold" fill="#fff">10x</text>
<g clip-path="url(#cp7)">
<rect x="134.20" y="392.40" width="117.40" height="116.00" fill="#343a2a"/>
<polygon points="124.2,382.4 261.6,382.4 261.6,440.0 200.0,420.0 124.2,410.0" fill="#22261a" filter="url(#bl8)" opacity="0.85"/>
<rect x="134.2" y="392.4" width="117.4" height="116.0" fill="#000" filter="url(#nz18)"/>
<rect x="134.2" y="392.4" width="117.4" height="116.0" fill="#000" filter="url(#nz19)"/>
<g mask="url(#mk5)">
<rect x="134.2" y="392.4" width="117.4" height="116.0" fill="#000" filter="url(#nz20)"/>
</g>
<ellipse cx="159.3" cy="429.7" rx="6" ry="5" fill="#9a9c90" stroke="#e0e0d8" stroke-width="1.2" opacity="0.45" transform="rotate(0 159.3 429.7)" filter="url(#bl05)"/>
<ellipse cx="165" cy="443.4" rx="5.5" ry="5" fill="#9a9c90" stroke="#e0e0d8" stroke-width="1.2" opacity="0.45" transform="rotate(0 165 443.4)" filter="url(#bl05)"/>
<ellipse cx="181" cy="434" rx="6" ry="5" fill="#9a9c90" stroke="#e0e0d8" stroke-width="1.2" opacity="0.45" transform="rotate(0 181 434)" filter="url(#bl05)"/>
<ellipse cx="190" cy="440" rx="5" ry="4.5" fill="#9a9c90" stroke="#e0e0d8" stroke-width="1.2" opacity="0.45" transform="rotate(0 190 440)" filter="url(#bl05)"/>
<ellipse cx="206" cy="436.6" rx="6" ry="5" fill="#9a9c90" stroke="#e0e0d8" stroke-width="1.2" opacity="0.45" transform="rotate(0 206 436.6)" filter="url(#bl05)"/>
<ellipse cx="210.7" cy="449.1" rx="5.5" ry="5" fill="#9a9c90" stroke="#e0e0d8" stroke-width="1.2" opacity="0.45" transform="rotate(0 210.7 449.1)" filter="url(#bl05)"/>
<ellipse cx="215.3" cy="471" rx="7" ry="6" fill="#9a9c90" stroke="#e0e0d8" stroke-width="1.2" opacity="0.45" transform="rotate(0 215.3 471)" filter="url(#bl05)"/>
<ellipse cx="229" cy="449" rx="6" ry="5" fill="#9a9c90" stroke="#e0e0d8" stroke-width="1.2" opacity="0.45" transform="rotate(0 229 449)" filter="url(#bl05)"/>
<ellipse cx="233.6" cy="467.4" rx="6" ry="5.5" fill="#9a9c90" stroke="#e0e0d8" stroke-width="1.2" opacity="0.45" transform="rotate(0 233.6 467.4)" filter="url(#bl05)"/>
<ellipse cx="219.9" cy="484" rx="6" ry="5" fill="#9a9c90" stroke="#e0e0d8" stroke-width="1.2" opacity="0.45" transform="rotate(0 219.9 484)" filter="url(#bl05)"/>
<ellipse cx="240.4" cy="479" rx="6" ry="5" fill="#9a9c90" stroke="#e0e0d8" stroke-width="1.2" opacity="0.45" transform="rotate(0 240.4 479)" filter="url(#bl05)"/>
<ellipse cx="238" cy="426.3" rx="5" ry="4.5" fill="#9a9c90" stroke="#e0e0d8" stroke-width="1.2" opacity="0.45" transform="rotate(0 238 426.3)" filter="url(#bl05)"/>
<ellipse cx="224.4" cy="419.4" rx="5" ry="4" fill="#9a9c90" stroke="#e0e0d8" stroke-width="1.2" opacity="0.45" transform="rotate(0 224.4 419.4)" filter="url(#bl05)"/>
<ellipse cx="146.7" cy="424" rx="5" ry="4.5" fill="#9a9c90" stroke="#e0e0d8" stroke-width="1.2" opacity="0.45" transform="rotate(0 146.7 424)" filter="url(#bl05)"/>
<ellipse cx="245" cy="495" rx="5" ry="5" fill="#9a9c90" stroke="#e0e0d8" stroke-width="1.2" opacity="0.45" transform="rotate(0 245 495)" filter="url(#bl05)"/>
<path d="M162.8 455.6 Q 164.1 459.2 167.0 462.4" fill="none" stroke="#c44a28" stroke-width="0.9" opacity="0.6"/>
<path d="M243.0 444.5 Q 246.7 444.2 250.2 443.0" fill="none" stroke="#c44a28" stroke-width="0.9" opacity="0.6"/>
<path d="M203.0 440.6 Q 207.2 441.6 208.4 440.5" fill="none" stroke="#c44a28" stroke-width="0.9" opacity="0.6"/>
<path d="M137.5 429.8 Q 132.7 430.7 129.7 430.9" fill="none" stroke="#c44a28" stroke-width="0.9" opacity="0.6"/>
<path d="M177.3 485.7 Q 179.8 484.8 184.1 482.3" fill="none" stroke="#c44a28" stroke-width="0.9" opacity="0.6"/>
<path d="M185.6 491.1 Q 183.0 492.9 177.4 492.7" fill="none" stroke="#c44a28" stroke-width="0.9" opacity="0.6"/>
<path d="M231.2 489.2 Q 230.9 488.0 227.8 487.0" fill="none" stroke="#c44a28" stroke-width="0.9" opacity="0.6"/>
<path d="M136.1 448.5 Q 135.7 448.4 132.5 450.6" fill="none" stroke="#c44a28" stroke-width="0.9" opacity="0.6"/>
<path d="M240.3 460.7 Q 241.3 461.8 242.6 465.3" fill="none" stroke="#c44a28" stroke-width="0.9" opacity="0.6"/>
<path d="M223.8 471.5 Q 228.6 472.5 231.7 470.6" fill="none" stroke="#c44a28" stroke-width="0.9" opacity="0.6"/>
<path d="M243.6 470.7 Q 241.6 471.2 237.6 469.2" fill="none" stroke="#c44a28" stroke-width="0.9" opacity="0.6"/>
<path d="M231.7 491.4 Q 233.2 492.1 237.1 492.3" fill="none" stroke="#c44a28" stroke-width="0.9" opacity="0.6"/>
<path d="M202.3 461.8 Q 204.3 460.4 205.0 458.4" fill="none" stroke="#c44a28" stroke-width="0.9" opacity="0.6"/>
<path d="M159.2 506.1 Q 162.1 507.4 164.7 508.0" fill="none" stroke="#c44a28" stroke-width="0.9" opacity="0.6"/>
<path d="M249.5 460.9 Q 251.2 458.2 253.1 457.7" fill="none" stroke="#c44a28" stroke-width="0.9" opacity="0.6"/>
<path d="M209.3 447.2 Q 209.6 446.7 210.1 443.6" fill="none" stroke="#c44a28" stroke-width="0.9" opacity="0.6"/>
<path d="M135.5 472.4 Q 134.1 469.1 132.3 465.8" fill="none" stroke="#c44a28" stroke-width="0.9" opacity="0.6"/>
<path d="M246.8 432.4 Q 246.5 429.0 244.8 425.7" fill="none" stroke="#c44a28" stroke-width="0.9" opacity="0.6"/>
<path d="M136.2 484.6 Q 136.9 489.2 134.8 492.2" fill="none" stroke="#c44a28" stroke-width="0.9" opacity="0.6"/>
<path d="M181.5 493.3 Q 179.9 495.3 177.8 496.5" fill="none" stroke="#c44a28" stroke-width="0.9" opacity="0.6"/>
<path d="M214.7 461.0 Q 211.1 463.3 208.5 465.0" fill="none" stroke="#c44a28" stroke-width="0.9" opacity="0.6"/>
<path d="M134.8 416.3 Q 136.0 413.3 137.7 413.1" fill="none" stroke="#c44a28" stroke-width="0.9" opacity="0.6"/>
<circle cx="185.6" cy="468.6" r="1.6" fill="#d04a2a" opacity="0.75"/>
<path d="M185.6 468.6 Q 188.2 468.1 189.5 469.7" fill="none" stroke="#d04a2a" stroke-width="1.0" opacity="0.75" stroke-linecap="round"/>
<path d="M185.6 468.6 Q 185.5 466.8 188.4 465.3" fill="none" stroke="#d04a2a" stroke-width="1.0" opacity="0.75" stroke-linecap="round"/>
<path d="M185.6 468.6 Q 185.7 469.8 187.1 471.3" fill="none" stroke="#d04a2a" stroke-width="1.0" opacity="0.75" stroke-linecap="round"/>
<path d="M185.6 468.6 Q 186.3 472.6 188.2 475.4" fill="none" stroke="#d04a2a" stroke-width="1.0" opacity="0.75" stroke-linecap="round"/>
<path d="M185.6 468.6 Q 184.4 470.6 183.5 471.4" fill="none" stroke="#d04a2a" stroke-width="1.0" opacity="0.75" stroke-linecap="round"/>
<circle cx="174" cy="467.4" r="1.6" fill="#d04a2a" opacity="0.75"/>
<path d="M174 467.4 Q 174.6 467.7 178.2 469.3" fill="none" stroke="#d04a2a" stroke-width="1.0" opacity="0.75" stroke-linecap="round"/>
<path d="M174 467.4 Q 174.0 464.9 174.1 460.9" fill="none" stroke="#d04a2a" stroke-width="1.0" opacity="0.75" stroke-linecap="round"/>
<path d="M174 467.4 Q 170.8 467.4 167.0 469.6" fill="none" stroke="#d04a2a" stroke-width="1.0" opacity="0.75" stroke-linecap="round"/>
<path d="M174 467.4 Q 171.6 465.4 169.1 465.2" fill="none" stroke="#d04a2a" stroke-width="1.0" opacity="0.75" stroke-linecap="round"/>
<path d="M174 467.4 Q 172.7 464.8 172.7 463.7" fill="none" stroke="#d04a2a" stroke-width="1.0" opacity="0.75" stroke-linecap="round"/>
<circle cx="199.3" cy="446.9" r="1.6" fill="#d04a2a" opacity="0.75"/>
<path d="M199.3 446.9 Q 199.3 442.9 199.8 440.7" fill="none" stroke="#d04a2a" stroke-width="1.0" opacity="0.75" stroke-linecap="round"/>
<path d="M199.3 446.9 Q 197.3 444.4 195.8 439.9" fill="none" stroke="#d04a2a" stroke-width="1.0" opacity="0.75" stroke-linecap="round"/>
<path d="M199.3 446.9 Q 201.2 447.5 204.8 448.2" fill="none" stroke="#d04a2a" stroke-width="1.0" opacity="0.75" stroke-linecap="round"/>
<path d="M199.3 446.9 Q 196.6 445.7 193.7 442.2" fill="none" stroke="#d04a2a" stroke-width="1.0" opacity="0.75" stroke-linecap="round"/>
<path d="M199.3 446.9 Q 198.4 449.2 197.6 450.1" fill="none" stroke="#d04a2a" stroke-width="1.0" opacity="0.75" stroke-linecap="round"/>
<circle cx="155.9" cy="451.4" r="1.6" fill="#d04a2a" opacity="0.75"/>
<path d="M155.9 451.4 Q 159.2 452.5 162.0 455.3" fill="none" stroke="#d04a2a" stroke-width="1.0" opacity="0.75" stroke-linecap="round"/>
<path d="M155.9 451.4 Q 157.4 448.8 157.0 445.5" fill="none" stroke="#d04a2a" stroke-width="1.0" opacity="0.75" stroke-linecap="round"/>
<path d="M155.9 451.4 Q 154.9 446.8 154.7 444.6" fill="none" stroke="#d04a2a" stroke-width="1.0" opacity="0.75" stroke-linecap="round"/>
<path d="M155.9 451.4 Q 157.5 451.8 158.8 449.3" fill="none" stroke="#d04a2a" stroke-width="1.0" opacity="0.75" stroke-linecap="round"/>
<path d="M155.9 451.4 Q 154.3 452.2 153.4 454.9" fill="none" stroke="#d04a2a" stroke-width="1.0" opacity="0.75" stroke-linecap="round"/>
<circle cx="144.4" cy="488" r="1.6" fill="#d04a2a" opacity="0.75"/>
<path d="M144.4 488 Q 143.3 487.9 141.7 490.1" fill="none" stroke="#d04a2a" stroke-width="1.0" opacity="0.75" stroke-linecap="round"/>
<path d="M144.4 488 Q 142.7 487.2 139.8 488.5" fill="none" stroke="#d04a2a" stroke-width="1.0" opacity="0.75" stroke-linecap="round"/>
<path d="M144.4 488 Q 144.7 488.2 147.7 487.3" fill="none" stroke="#d04a2a" stroke-width="1.0" opacity="0.75" stroke-linecap="round"/>
<path d="M144.4 488 Q 149.0 486.6 151.7 487.3" fill="none" stroke="#d04a2a" stroke-width="1.0" opacity="0.75" stroke-linecap="round"/>
<path d="M144.4 488 Q 144.3 489.1 145.8 492.2" fill="none" stroke="#d04a2a" stroke-width="1.0" opacity="0.75" stroke-linecap="round"/>
<circle cx="178.7" cy="488" r="1.6" fill="#d04a2a" opacity="0.75"/>
<path d="M178.7 488 Q 175.8 489.3 172.6 490.7" fill="none" stroke="#d04a2a" stroke-width="1.0" opacity="0.75" stroke-linecap="round"/>
<path d="M178.7 488 Q 181.1 486.2 180.7 484.4" fill="none" stroke="#d04a2a" stroke-width="1.0" opacity="0.75" stroke-linecap="round"/>
<path d="M178.7 488 Q 180.6 491.4 184.1 491.9" fill="none" stroke="#d04a2a" stroke-width="1.0" opacity="0.75" stroke-linecap="round"/>
<path d="M178.7 488 Q 179.3 485.6 177.1 484.3" fill="none" stroke="#d04a2a" stroke-width="1.0" opacity="0.75" stroke-linecap="round"/>
<path d="M178.7 488 Q 179.5 487.9 181.6 487.1" fill="none" stroke="#d04a2a" stroke-width="1.0" opacity="0.75" stroke-linecap="round"/>
<circle cx="201.6" cy="419.4" r="1.6" fill="#d04a2a" opacity="0.75"/>
<path d="M201.6 419.4 Q 204.6 420.5 206.1 419.6" fill="none" stroke="#d04a2a" stroke-width="1.0" opacity="0.75" stroke-linecap="round"/>
<path d="M201.6 419.4 Q 203.8 416.3 207.8 414.6" fill="none" stroke="#d04a2a" stroke-width="1.0" opacity="0.75" stroke-linecap="round"/>
<path d="M201.6 419.4 Q 197.6 419.6 195.4 418.3" fill="none" stroke="#d04a2a" stroke-width="1.0" opacity="0.75" stroke-linecap="round"/>
<path d="M201.6 419.4 Q 201.5 422.0 200.6 425.7" fill="none" stroke="#d04a2a" stroke-width="1.0" opacity="0.75" stroke-linecap="round"/>
<path d="M201.6 419.4 Q 198.9 420.3 195.9 422.3" fill="none" stroke="#d04a2a" stroke-width="1.0" opacity="0.75" stroke-linecap="round"/>
<circle cx="168" cy="410" r="1.6" fill="#d04a2a" opacity="0.75"/>
<path d="M168 410 Q 165.9 409.0 161.7 409.8" fill="none" stroke="#d04a2a" stroke-width="1.0" opacity="0.75" stroke-linecap="round"/>
<path d="M168 410 Q 169.2 413.3 171.4 415.4" fill="none" stroke="#d04a2a" stroke-width="1.0" opacity="0.75" stroke-linecap="round"/>
<path d="M168 410 Q 168.6 407.7 169.9 407.3" fill="none" stroke="#d04a2a" stroke-width="1.0" opacity="0.75" stroke-linecap="round"/>
<path d="M168 410 Q 165.4 413.1 164.5 416.8" fill="none" stroke="#d04a2a" stroke-width="1.0" opacity="0.75" stroke-linecap="round"/>
<path d="M168 410 Q 167.5 410.4 169.4 413.5" fill="none" stroke="#d04a2a" stroke-width="1.0" opacity="0.75" stroke-linecap="round"/>
<circle cx="240" cy="410" r="1.6" fill="#d04a2a" opacity="0.75"/>
<path d="M240 410 Q 238.0 414.3 238.7 416.8" fill="none" stroke="#d04a2a" stroke-width="1.0" opacity="0.75" stroke-linecap="round"/>
<path d="M240 410 Q 240.9 412.2 239.8 415.8" fill="none" stroke="#d04a2a" stroke-width="1.0" opacity="0.75" stroke-linecap="round"/>
<path d="M240 410 Q 238.7 406.0 236.6 402.9" fill="none" stroke="#d04a2a" stroke-width="1.0" opacity="0.75" stroke-linecap="round"/>
<path d="M240 410 Q 241.2 414.7 243.5 417.2" fill="none" stroke="#d04a2a" stroke-width="1.0" opacity="0.75" stroke-linecap="round"/>
<path d="M240 410 Q 237.9 409.0 236.5 408.8" fill="none" stroke="#d04a2a" stroke-width="1.0" opacity="0.75" stroke-linecap="round"/>
<path d="M197 410.3 L 208.4 408 L 229 404.6" fill="none" stroke="#40d834" stroke-width="1.6" stroke-linecap="round" opacity="0.95"/>
<path d="M226.7 396.6 L 229 404.6" fill="none" stroke="#40d834" stroke-width="1.6" stroke-linecap="round" opacity="0.95"/>
<path d="M213 435.4 Q 215.3 444.6 221 458.3 L 222 470" fill="none" stroke="#40d834" stroke-width="1.6" stroke-linecap="round" opacity="0.95"/>
<path d="M219.9 467.4 L 226.7 469.7" fill="none" stroke="#40d834" stroke-width="1.6" stroke-linecap="round" opacity="0.95"/>
<path d="M153.6 460.6 L 162.7 458.3" fill="none" stroke="#40d834" stroke-width="1.6" stroke-linecap="round" opacity="0.95"/>
<path d="M199.3 465.1 L 203.9 461.7" fill="none" stroke="#40d834" stroke-width="1.6" stroke-linecap="round" opacity="0.95"/>
<path d="M181 483.4 L 184 481" fill="none" stroke="#40d834" stroke-width="1.6" stroke-linecap="round" opacity="0.95"/>
<path d="M222 494.9 L 224 492" fill="none" stroke="#40d834" stroke-width="1.6" stroke-linecap="round" opacity="0.95"/>
<path d="M137.6 463 L 139 474" fill="none" stroke="#40d834" stroke-width="1.6" stroke-linecap="round" opacity="0.95"/>
<path d="M220 393 L 221 399" fill="none" stroke="#40d834" stroke-width="1.6" stroke-linecap="round" opacity="0.95"/>
<ellipse cx="214.5" cy="441" rx="2" ry="3" fill="#40d834"/>
</g>
<rect x="162.2" y="456.2" width="33.5" height="22.6" fill="none" stroke="#e3b238" stroke-width="1.1" stroke-dasharray="3,1.8"/>
<line x1="195.7" y1="456.2" x2="254.7" y2="453.3" stroke="#e3b238" stroke-width="1.1" stroke-dasharray="3,1.8"/>
<line x1="195.7" y1="478.8" x2="254.7" y2="508" stroke="#e3b238" stroke-width="1.1" stroke-dasharray="3,1.8"/>
<text x="137.8" y="404.2" font-size="12.5" text-anchor="start" font-weight="bold" fill="#62b84e">Fam49b</text>
<text x="137.8" y="419.2" font-size="12.5" font-weight="bold" fill="#e8392c">Iba1 <tspan fill="#fff">Th</tspan></text>
<text x="248.4" y="402.8" font-size="10" text-anchor="end" font-weight="bold" fill="#fff">60x</text>
<rect x="138.00" y="497.20" width="10.90" height="4.80" fill="#000" stroke="#fff" stroke-width="0.6"/>
<text x="143.4" y="501.2" font-size="3.2" text-anchor="middle" font-weight="normal" fill="#fff">20um</text>
<g clip-path="url(#cp8)">
<rect x="340.10" y="392.90" width="80.70" height="55.70" fill="#340605"/>
<rect x="340.1" y="392.9" width="80.7" height="55.7" fill="#000" filter="url(#nz21)"/>
<rect x="340.1" y="392.9" width="80.7" height="55.7" fill="#000" filter="url(#nz22)"/>
<circle cx="389.5" cy="427" r="5.5" fill="#c83a28" fill-opacity="0.6" stroke="#e84a34" stroke-width="1.5" filter="url(#bl05)"/>
<circle cx="347.5" cy="441.5" r="6" fill="#c83a28" fill-opacity="0.6" stroke="#e84a34" stroke-width="1.5" filter="url(#bl05)"/>
</g>
<text x="342.3" y="400.6" font-size="7.2" text-anchor="start" font-weight="bold" fill="#e8392c">Iba1</text>
<g clip-path="url(#cp9)">
<rect x="254.70" y="453.30" width="81.50" height="55.20" fill="#363e28"/>
<rect x="254.7" y="453.3" width="81.5" height="55.2" fill="#000" filter="url(#nz23)"/>
<rect x="254.7" y="453.3" width="81.5" height="55.2" fill="#000" filter="url(#nz24)"/>
<rect x="254.7" y="453.3" width="81.5" height="55.2" fill="#000" filter="url(#nz25)"/>
<circle cx="315.5" cy="486.4" r="6.5" fill="#c84a2c" fill-opacity="0.55" stroke="#e05030" stroke-width="1.4" filter="url(#bl05)"/>
<circle cx="261.5" cy="501.4" r="6.5" fill="#c84a2c" fill-opacity="0.55" stroke="#e05030" stroke-width="1.4" filter="url(#bl05)"/>
<path d="M292.5 491.5 Q 289 493 290 497.5 Q 289.5 502 286.5 505.5" fill="none" stroke="#40e030" stroke-width="2.4" stroke-linecap="round"/>
</g>
<text x="257" y="461" font-size="7.2" text-anchor="start" font-weight="bold" fill="#62b84e">Fam49b</text>
<text x="257" y="470" font-size="7.2" font-weight="bold" fill="#e8392c">Iba1 <tspan fill="#fff">Th</tspan></text>
<g clip-path="url(#cp10)">
<rect x="340.10" y="453.30" width="80.70" height="55.20" fill="#1c4a16"/>
<rect x="340.1" y="453.3" width="80.7" height="55.2" fill="#000" filter="url(#nz26)"/>
<rect x="340.1" y="453.3" width="80.7" height="55.2" fill="#000" filter="url(#nz27)"/>
<rect x="340.1" y="453.3" width="80.7" height="55.2" fill="#000" filter="url(#nz28)"/>
<path d="M377.5 491.5 Q 374 493 375 497.5 Q 374.5 502 371.5 505.5" fill="none" stroke="#50f040" stroke-width="2.4" stroke-linecap="round"/>
<path d="M361 474 L 363 480" fill="none" stroke="#50e040" stroke-width="1.4"/>
</g>
<text x="342.3" y="460.9" font-size="7.2" text-anchor="start" font-weight="bold" fill="#62b84e">Fam49b</text>
<line x1="249.2" y1="383.4" x2="255.8" y2="323.8" stroke="#e3b238" stroke-width="1.1" stroke-dasharray="3,1.8"/></svg></body></html>
